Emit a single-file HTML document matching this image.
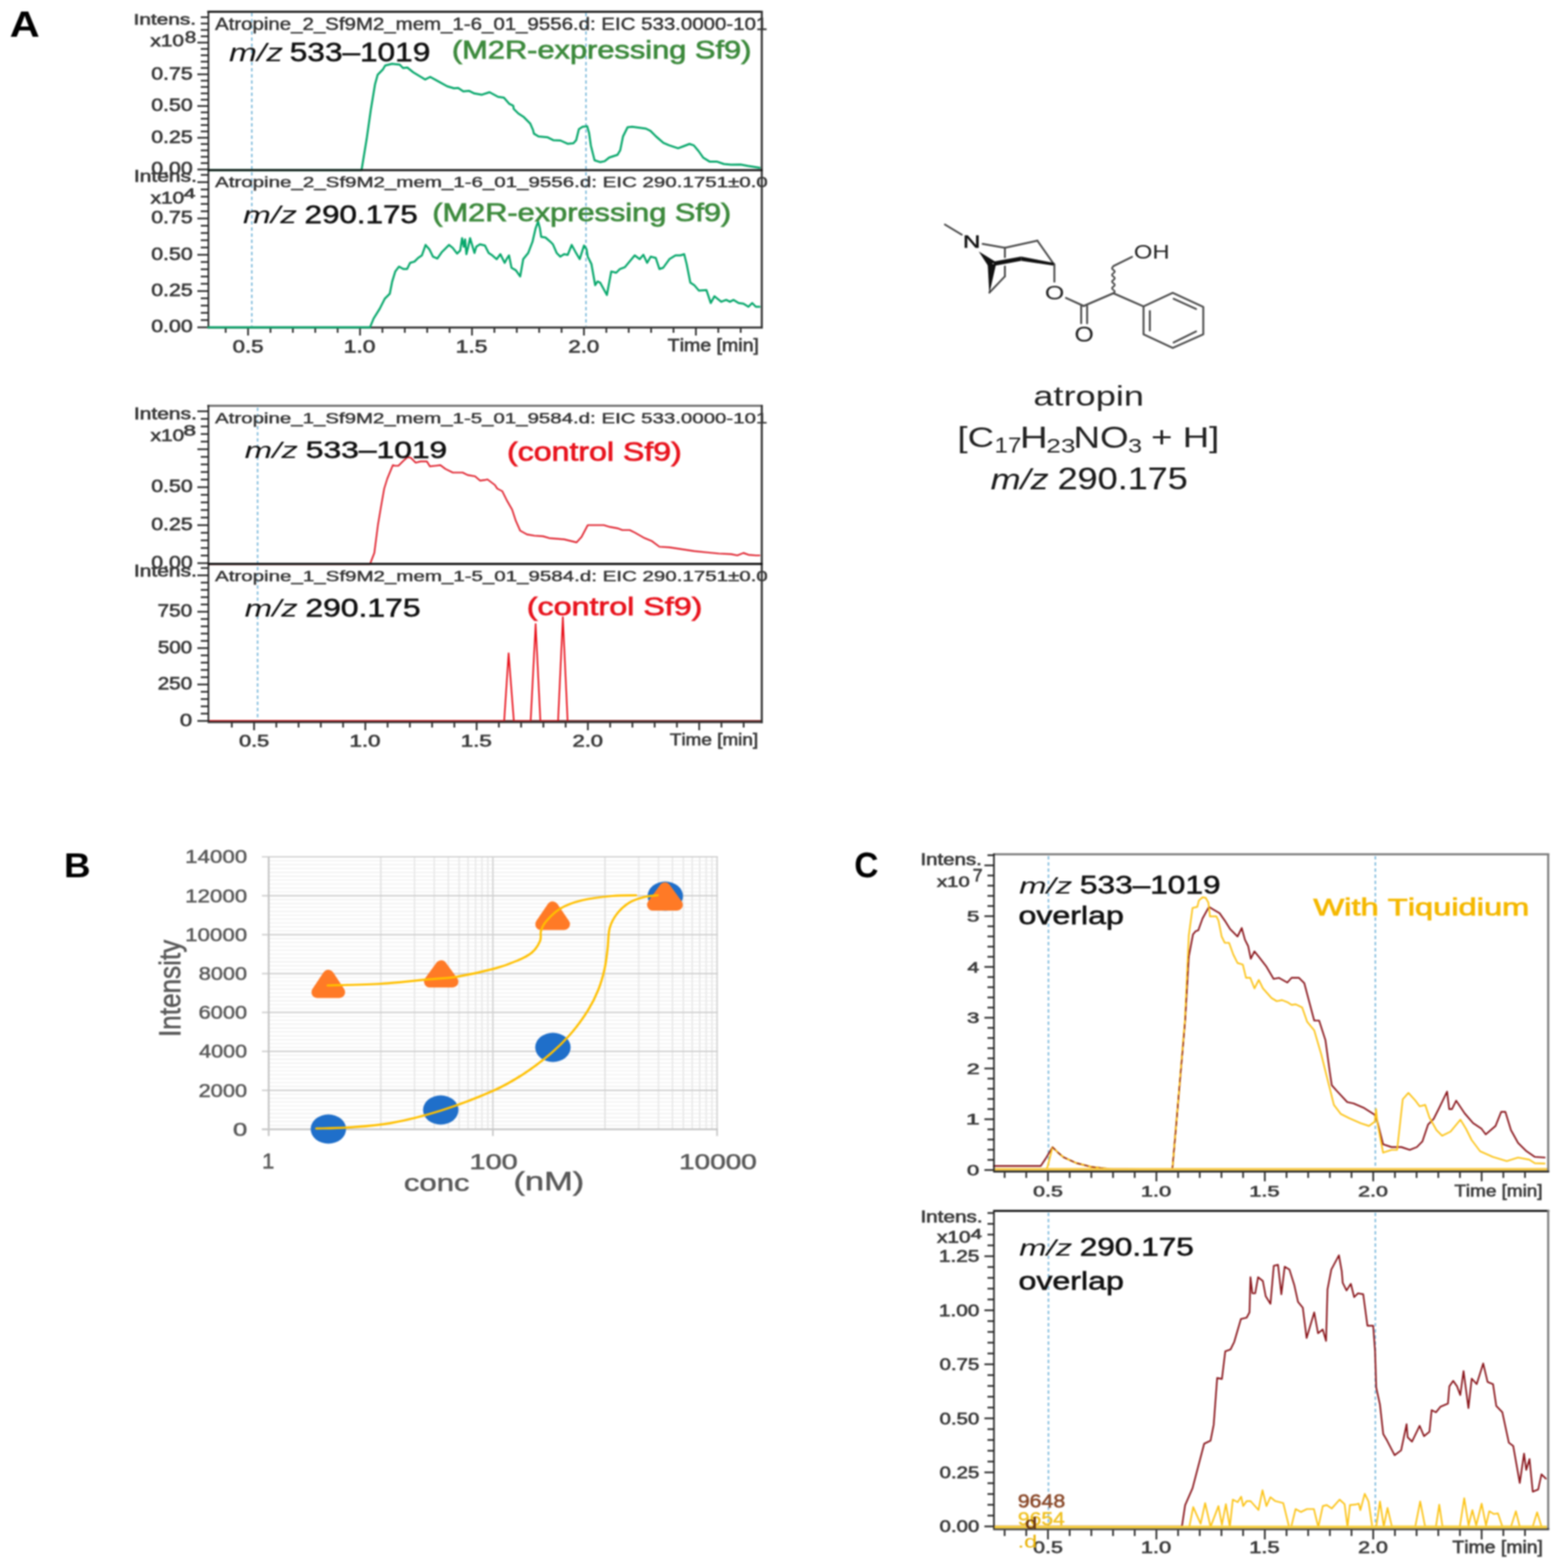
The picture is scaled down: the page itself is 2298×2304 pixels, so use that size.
<!DOCTYPE html>
<html><head><meta charset="utf-8"><title>Atropine figure</title>
<style>
html,body{margin:0;padding:0;background:#fff;}
svg{display:block;filter:blur(0.8px);}
text{font-family:"Liberation Sans",Arial,sans-serif;font-kerning:none;}
</style></head><body>
<svg width="2298" height="2304" viewBox="0 0 2298 2304">
<rect width="2298" height="2304" fill="#fff"/>
<text x="14.3" y="53.6" font-size="52.91" textLength="44.1" lengthAdjust="spacingAndGlyphs" fill="#000" font-weight="bold">A</text>
<text x="222.2" y="116.5" font-size="25.49" textLength="61.0" lengthAdjust="spacingAndGlyphs" fill="#3a3a3a" stroke="#3a3a3a" stroke-width="0.9">0.75</text>
<text x="222.2" y="163.1" font-size="25.49" textLength="60.9" lengthAdjust="spacingAndGlyphs" fill="#3a3a3a" stroke="#3a3a3a" stroke-width="0.9">0.50</text>
<text x="222.2" y="209.7" font-size="25.49" textLength="61.0" lengthAdjust="spacingAndGlyphs" fill="#3a3a3a" stroke="#3a3a3a" stroke-width="0.9">0.25</text>
<text x="222.2" y="256.3" font-size="25.49" textLength="60.9" lengthAdjust="spacingAndGlyphs" fill="#3a3a3a" stroke="#3a3a3a" stroke-width="0.9">0.00</text>
<text x="196.3" y="35.8" font-size="22.67" textLength="91.7" lengthAdjust="spacingAndGlyphs" fill="#3a3a3a" stroke="#3a3a3a" stroke-width="0.9">Intens.</text>
<text x="220.9" y="68.1" font-size="23.26" textLength="49.5" lengthAdjust="spacingAndGlyphs" fill="#3a3a3a" stroke="#3a3a3a" stroke-width="0.9">x10</text>
<text x="271.5" y="63.2" font-size="24.15" textLength="16.8" lengthAdjust="spacingAndGlyphs" fill="#3a3a3a" stroke="#3a3a3a" stroke-width="0.9">8</text>
<line x1="290.0" y1="249.0" x2="306.0" y2="249.0" stroke="#2b2b2b" stroke-width="2.5"/>
<line x1="295.0" y1="239.7" x2="306.0" y2="239.7" stroke="#2b2b2b" stroke-width="2.5"/>
<line x1="295.0" y1="230.4" x2="306.0" y2="230.4" stroke="#2b2b2b" stroke-width="2.5"/>
<line x1="295.0" y1="221.0" x2="306.0" y2="221.0" stroke="#2b2b2b" stroke-width="2.5"/>
<line x1="295.0" y1="211.7" x2="306.0" y2="211.7" stroke="#2b2b2b" stroke-width="2.5"/>
<line x1="290.0" y1="202.4" x2="306.0" y2="202.4" stroke="#2b2b2b" stroke-width="2.5"/>
<line x1="295.0" y1="193.1" x2="306.0" y2="193.1" stroke="#2b2b2b" stroke-width="2.5"/>
<line x1="295.0" y1="183.8" x2="306.0" y2="183.8" stroke="#2b2b2b" stroke-width="2.5"/>
<line x1="295.0" y1="174.4" x2="306.0" y2="174.4" stroke="#2b2b2b" stroke-width="2.5"/>
<line x1="295.0" y1="165.1" x2="306.0" y2="165.1" stroke="#2b2b2b" stroke-width="2.5"/>
<line x1="290.0" y1="155.8" x2="306.0" y2="155.8" stroke="#2b2b2b" stroke-width="2.5"/>
<line x1="295.0" y1="146.5" x2="306.0" y2="146.5" stroke="#2b2b2b" stroke-width="2.5"/>
<line x1="295.0" y1="137.2" x2="306.0" y2="137.2" stroke="#2b2b2b" stroke-width="2.5"/>
<line x1="295.0" y1="127.8" x2="306.0" y2="127.8" stroke="#2b2b2b" stroke-width="2.5"/>
<line x1="295.0" y1="118.5" x2="306.0" y2="118.5" stroke="#2b2b2b" stroke-width="2.5"/>
<line x1="290.0" y1="109.2" x2="306.0" y2="109.2" stroke="#2b2b2b" stroke-width="2.5"/>
<line x1="295.0" y1="99.9" x2="306.0" y2="99.9" stroke="#2b2b2b" stroke-width="2.5"/>
<line x1="295.0" y1="90.6" x2="306.0" y2="90.6" stroke="#2b2b2b" stroke-width="2.5"/>
<line x1="295.0" y1="81.2" x2="306.0" y2="81.2" stroke="#2b2b2b" stroke-width="2.5"/>
<line x1="295.0" y1="71.9" x2="306.0" y2="71.9" stroke="#2b2b2b" stroke-width="2.5"/>
<line x1="290.0" y1="62.6" x2="306.0" y2="62.6" stroke="#2b2b2b" stroke-width="2.5"/>
<line x1="295.0" y1="53.3" x2="306.0" y2="53.3" stroke="#2b2b2b" stroke-width="2.5"/>
<line x1="295.0" y1="44.0" x2="306.0" y2="44.0" stroke="#2b2b2b" stroke-width="2.5"/>
<line x1="295.0" y1="34.6" x2="306.0" y2="34.6" stroke="#2b2b2b" stroke-width="2.5"/>
<line x1="295.0" y1="25.3" x2="306.0" y2="25.3" stroke="#2b2b2b" stroke-width="2.5"/>
<line x1="370" y1="19" x2="370" y2="479" stroke="#6fb3d9" stroke-width="2.2" stroke-dasharray="5,4" opacity="0.9"/>
<line x1="861" y1="19" x2="861" y2="479" stroke="#6fb3d9" stroke-width="2.2" stroke-dasharray="5,4" opacity="0.9"/>
<polyline points="306.0,250.0 531.2,250.0 538.7,204.6 544.9,161.0 551.1,123.6 554.9,109.9 562.3,102.4 566.0,96.2 576.0,93.7 587.3,95.0 592.2,100.0 598.5,99.3 607.2,106.2 624.6,116.8 632.1,113.0 644.5,119.9 657.0,126.7 667.0,129.8 673.2,129.2 680.7,134.2 689.4,133.6 696.9,137.3 708.1,139.2 719.3,135.5 731.7,142.3 740.4,143.6 748.0,152.3 754.1,155.4 754.8,160.0 761.6,166.7 769.7,172.1 779.1,181.6 783.2,191.0 784.5,196.4 791.3,200.5 804.8,201.8 812.8,205.9 823.6,206.5 834.4,211.3 842.5,210.6 846.6,205.9 850.6,189.7 856.0,186.3 862.8,185.6 865.5,195.1 868.2,214.0 873.6,235.5 881.6,238.2 888.4,236.9 895.1,231.5 907.3,227.5 911.3,220.7 915.4,200.5 922.1,187.0 928.9,186.3 949.1,189.0 955.8,192.4 963.9,200.5 974.7,209.9 982.8,213.3 996.3,217.8 1004.0,215.0 1013.1,211.5 1019.4,213.6 1026.4,222.0 1033.4,231.8 1042.5,237.4 1053.1,237.4 1063.6,241.0 1074.1,242.0 1088.1,241.7 1098.6,243.8 1116.1,246.6" fill="none" stroke="#08a86c" stroke-width="3.0" stroke-linejoin="round" stroke-linecap="round"/>
<text x="222.2" y="328.3" font-size="25.49" textLength="61.0" lengthAdjust="spacingAndGlyphs" fill="#3a3a3a" stroke="#3a3a3a" stroke-width="0.9">0.75</text>
<text x="222.2" y="381.7" font-size="25.49" textLength="60.9" lengthAdjust="spacingAndGlyphs" fill="#3a3a3a" stroke="#3a3a3a" stroke-width="0.9">0.50</text>
<text x="222.2" y="435.0" font-size="25.49" textLength="61.0" lengthAdjust="spacingAndGlyphs" fill="#3a3a3a" stroke="#3a3a3a" stroke-width="0.9">0.25</text>
<text x="222.2" y="488.3" font-size="25.49" textLength="60.9" lengthAdjust="spacingAndGlyphs" fill="#3a3a3a" stroke="#3a3a3a" stroke-width="0.9">0.00</text>
<text x="196.7" y="267.2" font-size="24.42" textLength="92.6" lengthAdjust="spacingAndGlyphs" fill="#3a3a3a" stroke="#3a3a3a" stroke-width="0.9">Intens.</text>
<text x="221.2" y="299.2" font-size="23.84" textLength="49.5" lengthAdjust="spacingAndGlyphs" fill="#3a3a3a" stroke="#3a3a3a" stroke-width="0.9">x10</text>
<text x="270.1" y="290.6" font-size="20.79" textLength="17.2" lengthAdjust="spacingAndGlyphs" fill="#3a3a3a" stroke="#3a3a3a" stroke-width="0.9">4</text>
<line x1="290.0" y1="481.0" x2="306.0" y2="481.0" stroke="#2b2b2b" stroke-width="2.5"/>
<line x1="295.0" y1="470.3" x2="306.0" y2="470.3" stroke="#2b2b2b" stroke-width="2.5"/>
<line x1="295.0" y1="459.7" x2="306.0" y2="459.7" stroke="#2b2b2b" stroke-width="2.5"/>
<line x1="295.0" y1="449.0" x2="306.0" y2="449.0" stroke="#2b2b2b" stroke-width="2.5"/>
<line x1="295.0" y1="438.3" x2="306.0" y2="438.3" stroke="#2b2b2b" stroke-width="2.5"/>
<line x1="290.0" y1="427.7" x2="306.0" y2="427.7" stroke="#2b2b2b" stroke-width="2.5"/>
<line x1="295.0" y1="417.0" x2="306.0" y2="417.0" stroke="#2b2b2b" stroke-width="2.5"/>
<line x1="295.0" y1="406.3" x2="306.0" y2="406.3" stroke="#2b2b2b" stroke-width="2.5"/>
<line x1="295.0" y1="395.7" x2="306.0" y2="395.7" stroke="#2b2b2b" stroke-width="2.5"/>
<line x1="295.0" y1="385.0" x2="306.0" y2="385.0" stroke="#2b2b2b" stroke-width="2.5"/>
<line x1="290.0" y1="374.4" x2="306.0" y2="374.4" stroke="#2b2b2b" stroke-width="2.5"/>
<line x1="295.0" y1="363.7" x2="306.0" y2="363.7" stroke="#2b2b2b" stroke-width="2.5"/>
<line x1="295.0" y1="353.0" x2="306.0" y2="353.0" stroke="#2b2b2b" stroke-width="2.5"/>
<line x1="295.0" y1="342.4" x2="306.0" y2="342.4" stroke="#2b2b2b" stroke-width="2.5"/>
<line x1="295.0" y1="331.7" x2="306.0" y2="331.7" stroke="#2b2b2b" stroke-width="2.5"/>
<line x1="290.0" y1="321.0" x2="306.0" y2="321.0" stroke="#2b2b2b" stroke-width="2.5"/>
<line x1="295.0" y1="310.4" x2="306.0" y2="310.4" stroke="#2b2b2b" stroke-width="2.5"/>
<line x1="295.0" y1="299.7" x2="306.0" y2="299.7" stroke="#2b2b2b" stroke-width="2.5"/>
<line x1="295.0" y1="289.0" x2="306.0" y2="289.0" stroke="#2b2b2b" stroke-width="2.5"/>
<line x1="295.0" y1="278.4" x2="306.0" y2="278.4" stroke="#2b2b2b" stroke-width="2.5"/>
<line x1="290.0" y1="267.7" x2="306.0" y2="267.7" stroke="#2b2b2b" stroke-width="2.5"/>
<line x1="295.0" y1="257.0" x2="306.0" y2="257.0" stroke="#2b2b2b" stroke-width="2.5"/>
<line x1="331.6" y1="481.0" x2="331.6" y2="489.0" stroke="#2b2b2b" stroke-width="2.5"/>
<line x1="364.5" y1="481.0" x2="364.5" y2="493.0" stroke="#2b2b2b" stroke-width="2.5"/>
<line x1="397.4" y1="481.0" x2="397.4" y2="489.0" stroke="#2b2b2b" stroke-width="2.5"/>
<line x1="430.3" y1="481.0" x2="430.3" y2="489.0" stroke="#2b2b2b" stroke-width="2.5"/>
<line x1="463.2" y1="481.0" x2="463.2" y2="489.0" stroke="#2b2b2b" stroke-width="2.5"/>
<line x1="496.1" y1="481.0" x2="496.1" y2="489.0" stroke="#2b2b2b" stroke-width="2.5"/>
<line x1="529.0" y1="481.0" x2="529.0" y2="493.0" stroke="#2b2b2b" stroke-width="2.5"/>
<line x1="561.9" y1="481.0" x2="561.9" y2="489.0" stroke="#2b2b2b" stroke-width="2.5"/>
<line x1="594.8" y1="481.0" x2="594.8" y2="489.0" stroke="#2b2b2b" stroke-width="2.5"/>
<line x1="627.7" y1="481.0" x2="627.7" y2="489.0" stroke="#2b2b2b" stroke-width="2.5"/>
<line x1="660.6" y1="481.0" x2="660.6" y2="489.0" stroke="#2b2b2b" stroke-width="2.5"/>
<line x1="693.5" y1="481.0" x2="693.5" y2="493.0" stroke="#2b2b2b" stroke-width="2.5"/>
<line x1="726.4" y1="481.0" x2="726.4" y2="489.0" stroke="#2b2b2b" stroke-width="2.5"/>
<line x1="759.3" y1="481.0" x2="759.3" y2="489.0" stroke="#2b2b2b" stroke-width="2.5"/>
<line x1="792.2" y1="481.0" x2="792.2" y2="489.0" stroke="#2b2b2b" stroke-width="2.5"/>
<line x1="825.1" y1="481.0" x2="825.1" y2="489.0" stroke="#2b2b2b" stroke-width="2.5"/>
<line x1="858.0" y1="481.0" x2="858.0" y2="493.0" stroke="#2b2b2b" stroke-width="2.5"/>
<line x1="890.9" y1="481.0" x2="890.9" y2="489.0" stroke="#2b2b2b" stroke-width="2.5"/>
<line x1="923.8" y1="481.0" x2="923.8" y2="489.0" stroke="#2b2b2b" stroke-width="2.5"/>
<line x1="956.7" y1="481.0" x2="956.7" y2="489.0" stroke="#2b2b2b" stroke-width="2.5"/>
<line x1="989.6" y1="481.0" x2="989.6" y2="489.0" stroke="#2b2b2b" stroke-width="2.5"/>
<line x1="1022.5" y1="481.0" x2="1022.5" y2="493.0" stroke="#2b2b2b" stroke-width="2.5"/>
<line x1="1055.4" y1="481.0" x2="1055.4" y2="489.0" stroke="#2b2b2b" stroke-width="2.5"/>
<line x1="1088.3" y1="481.0" x2="1088.3" y2="489.0" stroke="#2b2b2b" stroke-width="2.5"/>
<text x="341.8" y="517.8" font-size="26.21" textLength="45.5" lengthAdjust="spacingAndGlyphs" fill="#3a3a3a" stroke="#3a3a3a" stroke-width="0.9">0.5</text>
<text x="505.0" y="517.8" font-size="26.21" textLength="46.7" lengthAdjust="spacingAndGlyphs" fill="#3a3a3a" stroke="#3a3a3a" stroke-width="0.9">1.0</text>
<text x="669.5" y="517.8" font-size="26.21" textLength="46.8" lengthAdjust="spacingAndGlyphs" fill="#3a3a3a" stroke="#3a3a3a" stroke-width="0.9">1.5</text>
<text x="834.9" y="517.8" font-size="26.21" textLength="45.7" lengthAdjust="spacingAndGlyphs" fill="#3a3a3a" stroke="#3a3a3a" stroke-width="0.9">2.0</text>
<text x="981.1" y="515.7" font-size="25.75" textLength="134.0" lengthAdjust="spacingAndGlyphs" fill="#3a3a3a" stroke="#3a3a3a" stroke-width="0.9">Time [min]</text>
<line x1="304.5" y1="17.3" x2="1120.5" y2="17.3" stroke="#111" stroke-width="3"/>
<line x1="306.2" y1="16.0" x2="306.2" y2="482.0" stroke="#222" stroke-width="2.4"/>
<line x1="1119.3" y1="16.0" x2="1119.3" y2="482.5" stroke="#333" stroke-width="3"/>
<line x1="305.0" y1="250.0" x2="1120.5" y2="250.0" stroke="#111" stroke-width="3.2"/>
<line x1="305.0" y1="481.3" x2="1120.5" y2="481.3" stroke="#333" stroke-width="3"/>
<polyline points="306.0,481.0 543.6,481.0 549.0,468.0 558.1,453.4 565.4,438.9 572.7,431.6 576.3,413.5 580.8,398.9 586.3,391.7 592.6,395.3 598.1,395.3 602.6,386.2 609.0,384.4 614.4,379.0 619.9,375.3 625.3,359.9 630.8,366.2 636.2,377.1 642.6,379.9 648.9,370.8 659.8,359.9 665.3,364.4 671.6,372.6 676.2,368.1 678.9,349.9 681.6,362.6 683.4,351.7 685.3,373.5 688.0,362.6 690.7,349.9 693.4,359.0 697.1,371.7 699.8,362.6 705.2,359.0 712.5,360.8 718.0,371.7 723.4,375.3 729.8,380.8 735.2,373.5 737.9,379.0 741.6,386.2 744.3,380.8 747.9,375.3 751.6,393.5 757.9,397.1 764.3,406.2 768.8,380.8 776.1,371.7 782.4,355.3 787.0,335.4 790.6,325.4 793.3,335.4 795.2,348.1 801.5,349.0 808.8,355.3 812.4,359.0 817.9,371.7 823.3,377.1 828.8,373.5 834.2,374.4 840.0,359.9 845.4,369.9 851.8,380.8 858.1,360.8 861.8,366.2 863.6,377.1 869.0,388.0 874.5,418.9 878.1,413.5 881.8,415.3 891.7,433.4 898.1,398.9 905.4,400.8 910.8,395.3 918.1,392.6 932.6,375.3 939.9,380.8 945.3,374.4 950.8,386.2 956.2,377.1 963.5,379.0 968.9,395.3 974.4,393.5 983.5,380.8 992.5,375.3 999.8,375.3 1005.3,373.5 1008.9,388.0 1014.3,415.3 1020.0,418.9 1027.0,427.1 1038.0,426.2 1044.3,445.3 1049.8,435.3 1059.7,443.4 1067.0,440.7 1072.5,443.4 1077.9,440.7 1085.2,445.3 1092.4,446.2 1099.7,450.7 1105.2,445.3 1110.6,450.7 1116.0,450.7" fill="none" stroke="#08a86c" stroke-width="3.0" stroke-linejoin="round" stroke-linecap="round"/>
<text x="315.9" y="43.6" font-size="24.86" textLength="811.5" lengthAdjust="spacingAndGlyphs" fill="#333" stroke="#333" stroke-width="0.6">Atropine_2_Sf9M2_mem_1-6_01_9556.d: EIC 533.0000-101</text>
<text x="316.1" y="275.0" font-size="22.53" textLength="812.0" lengthAdjust="spacingAndGlyphs" fill="#333" stroke="#333" stroke-width="0.6">Atropine_2_Sf9M2_mem_1-6_01_9556.d: EIC 290.1751±0.0</text>
<text x="336.6" y="89.8" font-size="36.64" textLength="79.3" lengthAdjust="spacingAndGlyphs" fill="#111" font-style="italic">m/z</text>
<text x="425.8" y="89.8" font-size="39.24" textLength="206.4" lengthAdjust="spacingAndGlyphs" fill="#111" stroke="#111" stroke-width="0.8">533–1019</text>
<text x="664.0" y="85.8" font-size="36.69" textLength="440.0" lengthAdjust="spacingAndGlyphs" fill="#3d8a3d" stroke="#3d8a3d" stroke-width="1.0">(M2R-expressing Sf9)</text>
<text x="357.0" y="328.2" font-size="34.97" textLength="79.3" lengthAdjust="spacingAndGlyphs" fill="#111" font-style="italic">m/z</text>
<text x="447.6" y="328.2" font-size="37.65" textLength="166.3" lengthAdjust="spacingAndGlyphs" fill="#111" stroke="#111" stroke-width="0.8">290.175</text>
<text x="635.2" y="324.9" font-size="37.01" textLength="439.2" lengthAdjust="spacingAndGlyphs" fill="#3d8a3d" stroke="#3d8a3d" stroke-width="1.0">(M2R-expressing Sf9)</text>
<text x="222.2" y="723.2" font-size="25.49" textLength="60.9" lengthAdjust="spacingAndGlyphs" fill="#3a3a3a" stroke="#3a3a3a" stroke-width="0.9">0.50</text>
<text x="222.2" y="779.0" font-size="25.49" textLength="61.0" lengthAdjust="spacingAndGlyphs" fill="#3a3a3a" stroke="#3a3a3a" stroke-width="0.9">0.25</text>
<text x="222.2" y="834.8" font-size="25.49" textLength="60.9" lengthAdjust="spacingAndGlyphs" fill="#3a3a3a" stroke="#3a3a3a" stroke-width="0.9">0.00</text>
<text x="196.7" y="615.8" font-size="24.42" textLength="92.6" lengthAdjust="spacingAndGlyphs" fill="#3a3a3a" stroke="#3a3a3a" stroke-width="0.9">Intens.</text>
<text x="221.2" y="648.2" font-size="24.27" textLength="49.5" lengthAdjust="spacingAndGlyphs" fill="#3a3a3a" stroke="#3a3a3a" stroke-width="0.9">x10</text>
<text x="269.4" y="640.2" font-size="21.89" textLength="18.5" lengthAdjust="spacingAndGlyphs" fill="#3a3a3a" stroke="#3a3a3a" stroke-width="0.9">8</text>
<line x1="290.0" y1="827.5" x2="306.0" y2="827.5" stroke="#2b2b2b" stroke-width="2.5"/>
<line x1="295.0" y1="816.3" x2="306.0" y2="816.3" stroke="#2b2b2b" stroke-width="2.5"/>
<line x1="295.0" y1="805.2" x2="306.0" y2="805.2" stroke="#2b2b2b" stroke-width="2.5"/>
<line x1="295.0" y1="794.0" x2="306.0" y2="794.0" stroke="#2b2b2b" stroke-width="2.5"/>
<line x1="295.0" y1="782.9" x2="306.0" y2="782.9" stroke="#2b2b2b" stroke-width="2.5"/>
<line x1="290.0" y1="771.7" x2="306.0" y2="771.7" stroke="#2b2b2b" stroke-width="2.5"/>
<line x1="295.0" y1="760.5" x2="306.0" y2="760.5" stroke="#2b2b2b" stroke-width="2.5"/>
<line x1="295.0" y1="749.4" x2="306.0" y2="749.4" stroke="#2b2b2b" stroke-width="2.5"/>
<line x1="295.0" y1="738.2" x2="306.0" y2="738.2" stroke="#2b2b2b" stroke-width="2.5"/>
<line x1="295.0" y1="727.1" x2="306.0" y2="727.1" stroke="#2b2b2b" stroke-width="2.5"/>
<line x1="290.0" y1="715.9" x2="306.0" y2="715.9" stroke="#2b2b2b" stroke-width="2.5"/>
<line x1="295.0" y1="704.7" x2="306.0" y2="704.7" stroke="#2b2b2b" stroke-width="2.5"/>
<line x1="295.0" y1="693.6" x2="306.0" y2="693.6" stroke="#2b2b2b" stroke-width="2.5"/>
<line x1="295.0" y1="682.4" x2="306.0" y2="682.4" stroke="#2b2b2b" stroke-width="2.5"/>
<line x1="295.0" y1="671.3" x2="306.0" y2="671.3" stroke="#2b2b2b" stroke-width="2.5"/>
<line x1="290.0" y1="660.1" x2="306.0" y2="660.1" stroke="#2b2b2b" stroke-width="2.5"/>
<line x1="295.0" y1="648.9" x2="306.0" y2="648.9" stroke="#2b2b2b" stroke-width="2.5"/>
<line x1="295.0" y1="637.8" x2="306.0" y2="637.8" stroke="#2b2b2b" stroke-width="2.5"/>
<line x1="295.0" y1="626.6" x2="306.0" y2="626.6" stroke="#2b2b2b" stroke-width="2.5"/>
<line x1="295.0" y1="615.5" x2="306.0" y2="615.5" stroke="#2b2b2b" stroke-width="2.5"/>
<line x1="290.0" y1="604.3" x2="306.0" y2="604.3" stroke="#2b2b2b" stroke-width="2.5"/>
<line x1="378.5" y1="599" x2="378.5" y2="1059" stroke="#6fb3d9" stroke-width="2.2" stroke-dasharray="5,4" opacity="0.9"/>
<polyline points="306.0,829.0 543.6,829.0 550.0,812.5 555.4,770.7 560.0,743.5 564.5,718.0 569.0,703.5 577.2,683.5 580.0,684.4 585.4,684.4 592.7,677.2 599.0,671.7 603.5,672.6 610.8,679.9 618.0,678.0 627.2,678.0 631.7,685.3 639.9,684.4 647.1,683.5 654.4,689.0 665.3,694.4 679.8,694.4 687.1,698.0 698.0,699.9 705.3,706.2 712.5,705.3 716.2,704.4 727.1,712.6 730.7,718.0 738.0,721.7 745.2,736.2 752.5,748.9 757.9,765.3 764.3,779.8 774.3,785.2 785.2,787.1 797.9,788.0 807.0,790.7 828.8,792.5 847.2,797.0 854.5,788.9 863.6,771.6 887.2,771.6 896.3,774.3 907.2,776.2 914.4,778.9 925.3,778.9 932.6,782.5 947.1,790.7 958.0,795.2 968.9,803.4 983.5,804.3 1001.6,807.0 1019.8,809.8 1038.0,811.6 1056.1,813.4 1074.3,814.3 1083.4,816.1 1092.4,812.5 1099.7,815.2 1110.6,816.1 1116.0,816.1" fill="none" stroke="#e0222e" stroke-width="2.4" stroke-linejoin="round" stroke-linecap="round"/>
<text x="231.6" y="906.2" font-size="25.49" textLength="50.7" lengthAdjust="spacingAndGlyphs" fill="#3a3a3a" stroke="#3a3a3a" stroke-width="0.9">750</text>
<text x="232.0" y="959.6" font-size="25.49" textLength="50.4" lengthAdjust="spacingAndGlyphs" fill="#3a3a3a" stroke="#3a3a3a" stroke-width="0.9">500</text>
<text x="231.7" y="1013.1" font-size="25.49" textLength="50.7" lengthAdjust="spacingAndGlyphs" fill="#3a3a3a" stroke="#3a3a3a" stroke-width="0.9">250</text>
<text x="264.3" y="1066.6" font-size="25.49" textLength="18.1" lengthAdjust="spacingAndGlyphs" fill="#3a3a3a" stroke="#3a3a3a" stroke-width="0.9">0</text>
<text x="196.7" y="847.2" font-size="24.42" textLength="92.6" lengthAdjust="spacingAndGlyphs" fill="#3a3a3a" stroke="#3a3a3a" stroke-width="0.9">Intens.</text>
<line x1="290.0" y1="1059.3" x2="306.0" y2="1059.3" stroke="#2b2b2b" stroke-width="2.5"/>
<line x1="295.0" y1="1048.6" x2="306.0" y2="1048.6" stroke="#2b2b2b" stroke-width="2.5"/>
<line x1="295.0" y1="1037.9" x2="306.0" y2="1037.9" stroke="#2b2b2b" stroke-width="2.5"/>
<line x1="295.0" y1="1027.2" x2="306.0" y2="1027.2" stroke="#2b2b2b" stroke-width="2.5"/>
<line x1="295.0" y1="1016.5" x2="306.0" y2="1016.5" stroke="#2b2b2b" stroke-width="2.5"/>
<line x1="290.0" y1="1005.8" x2="306.0" y2="1005.8" stroke="#2b2b2b" stroke-width="2.5"/>
<line x1="295.0" y1="995.1" x2="306.0" y2="995.1" stroke="#2b2b2b" stroke-width="2.5"/>
<line x1="295.0" y1="984.4" x2="306.0" y2="984.4" stroke="#2b2b2b" stroke-width="2.5"/>
<line x1="295.0" y1="973.7" x2="306.0" y2="973.7" stroke="#2b2b2b" stroke-width="2.5"/>
<line x1="295.0" y1="963.0" x2="306.0" y2="963.0" stroke="#2b2b2b" stroke-width="2.5"/>
<line x1="290.0" y1="952.3" x2="306.0" y2="952.3" stroke="#2b2b2b" stroke-width="2.5"/>
<line x1="295.0" y1="941.7" x2="306.0" y2="941.7" stroke="#2b2b2b" stroke-width="2.5"/>
<line x1="295.0" y1="931.0" x2="306.0" y2="931.0" stroke="#2b2b2b" stroke-width="2.5"/>
<line x1="295.0" y1="920.3" x2="306.0" y2="920.3" stroke="#2b2b2b" stroke-width="2.5"/>
<line x1="295.0" y1="909.6" x2="306.0" y2="909.6" stroke="#2b2b2b" stroke-width="2.5"/>
<line x1="290.0" y1="898.9" x2="306.0" y2="898.9" stroke="#2b2b2b" stroke-width="2.5"/>
<line x1="295.0" y1="888.2" x2="306.0" y2="888.2" stroke="#2b2b2b" stroke-width="2.5"/>
<line x1="295.0" y1="877.5" x2="306.0" y2="877.5" stroke="#2b2b2b" stroke-width="2.5"/>
<line x1="295.0" y1="866.8" x2="306.0" y2="866.8" stroke="#2b2b2b" stroke-width="2.5"/>
<line x1="295.0" y1="856.1" x2="306.0" y2="856.1" stroke="#2b2b2b" stroke-width="2.5"/>
<line x1="290.0" y1="845.4" x2="306.0" y2="845.4" stroke="#2b2b2b" stroke-width="2.5"/>
<line x1="295.0" y1="834.7" x2="306.0" y2="834.7" stroke="#2b2b2b" stroke-width="2.5"/>
<line x1="340.6" y1="1061.0" x2="340.6" y2="1069.0" stroke="#2b2b2b" stroke-width="2.5"/>
<line x1="373.3" y1="1061.0" x2="373.3" y2="1073.0" stroke="#2b2b2b" stroke-width="2.5"/>
<line x1="406.0" y1="1061.0" x2="406.0" y2="1069.0" stroke="#2b2b2b" stroke-width="2.5"/>
<line x1="438.7" y1="1061.0" x2="438.7" y2="1069.0" stroke="#2b2b2b" stroke-width="2.5"/>
<line x1="471.4" y1="1061.0" x2="471.4" y2="1069.0" stroke="#2b2b2b" stroke-width="2.5"/>
<line x1="504.1" y1="1061.0" x2="504.1" y2="1069.0" stroke="#2b2b2b" stroke-width="2.5"/>
<line x1="536.8" y1="1061.0" x2="536.8" y2="1073.0" stroke="#2b2b2b" stroke-width="2.5"/>
<line x1="569.5" y1="1061.0" x2="569.5" y2="1069.0" stroke="#2b2b2b" stroke-width="2.5"/>
<line x1="602.2" y1="1061.0" x2="602.2" y2="1069.0" stroke="#2b2b2b" stroke-width="2.5"/>
<line x1="634.9" y1="1061.0" x2="634.9" y2="1069.0" stroke="#2b2b2b" stroke-width="2.5"/>
<line x1="667.6" y1="1061.0" x2="667.6" y2="1069.0" stroke="#2b2b2b" stroke-width="2.5"/>
<line x1="700.3" y1="1061.0" x2="700.3" y2="1073.0" stroke="#2b2b2b" stroke-width="2.5"/>
<line x1="733.0" y1="1061.0" x2="733.0" y2="1069.0" stroke="#2b2b2b" stroke-width="2.5"/>
<line x1="765.7" y1="1061.0" x2="765.7" y2="1069.0" stroke="#2b2b2b" stroke-width="2.5"/>
<line x1="798.4" y1="1061.0" x2="798.4" y2="1069.0" stroke="#2b2b2b" stroke-width="2.5"/>
<line x1="831.1" y1="1061.0" x2="831.1" y2="1069.0" stroke="#2b2b2b" stroke-width="2.5"/>
<line x1="863.8" y1="1061.0" x2="863.8" y2="1073.0" stroke="#2b2b2b" stroke-width="2.5"/>
<line x1="896.5" y1="1061.0" x2="896.5" y2="1069.0" stroke="#2b2b2b" stroke-width="2.5"/>
<line x1="929.2" y1="1061.0" x2="929.2" y2="1069.0" stroke="#2b2b2b" stroke-width="2.5"/>
<line x1="961.9" y1="1061.0" x2="961.9" y2="1069.0" stroke="#2b2b2b" stroke-width="2.5"/>
<line x1="994.6" y1="1061.0" x2="994.6" y2="1069.0" stroke="#2b2b2b" stroke-width="2.5"/>
<line x1="1027.3" y1="1061.0" x2="1027.3" y2="1073.0" stroke="#2b2b2b" stroke-width="2.5"/>
<line x1="1060.0" y1="1061.0" x2="1060.0" y2="1069.0" stroke="#2b2b2b" stroke-width="2.5"/>
<line x1="1092.7" y1="1061.0" x2="1092.7" y2="1069.0" stroke="#2b2b2b" stroke-width="2.5"/>
<text x="351.2" y="1096.7" font-size="23.20" textLength="44.4" lengthAdjust="spacingAndGlyphs" fill="#3a3a3a" stroke="#3a3a3a" stroke-width="0.9">0.5</text>
<text x="513.4" y="1096.7" font-size="23.20" textLength="45.6" lengthAdjust="spacingAndGlyphs" fill="#3a3a3a" stroke="#3a3a3a" stroke-width="0.9">1.0</text>
<text x="676.9" y="1096.7" font-size="23.20" textLength="45.7" lengthAdjust="spacingAndGlyphs" fill="#3a3a3a" stroke="#3a3a3a" stroke-width="0.9">1.5</text>
<text x="841.3" y="1096.7" font-size="23.20" textLength="44.7" lengthAdjust="spacingAndGlyphs" fill="#3a3a3a" stroke="#3a3a3a" stroke-width="0.9">2.0</text>
<text x="984.2" y="1095.4" font-size="24.67" textLength="129.7" lengthAdjust="spacingAndGlyphs" fill="#3a3a3a" stroke="#3a3a3a" stroke-width="0.9">Time [min]</text>
<line x1="307.0" y1="1059.3" x2="1118.0" y2="1059.3" stroke="#8e2a2a" stroke-width="2.6"/>
<polyline points="306.0,1059.3 740.8,1059.3 747.3,960.0 755.0,1059.3 779.7,1059.3 787.0,917.0 794.0,1059.3 820.0,1059.3 827.0,907.0 834.0,1059.3" fill="none" stroke="#e8101a" stroke-width="2.3" stroke-linejoin="round" stroke-linecap="round" stroke-linejoin="miter"/>
<line x1="304.5" y1="596.3" x2="1120.5" y2="596.3" stroke="#6a6a6a" stroke-width="3"/>
<line x1="306.2" y1="595.0" x2="306.2" y2="1062.0" stroke="#222" stroke-width="2.4"/>
<line x1="1119.3" y1="595.0" x2="1119.3" y2="1062.5" stroke="#333" stroke-width="3"/>
<line x1="305.0" y1="828.6" x2="1120.5" y2="828.6" stroke="#111" stroke-width="3.2"/>
<line x1="305.0" y1="1061.0" x2="1120.5" y2="1061.0" stroke="#333" stroke-width="3"/>
<text x="316.1" y="622.3" font-size="22.67" textLength="811.3" lengthAdjust="spacingAndGlyphs" fill="#333" stroke="#333" stroke-width="0.6">Atropine_1_Sf9M2_mem_1-5_01_9584.d: EIC 533.0000-101</text>
<text x="316.1" y="853.7" font-size="22.53" textLength="812.0" lengthAdjust="spacingAndGlyphs" fill="#333" stroke="#333" stroke-width="0.6">Atropine_1_Sf9M2_mem_1-5_01_9584.d: EIC 290.1751±0.0</text>
<text x="359.6" y="672.9" font-size="33.30" textLength="78.0" lengthAdjust="spacingAndGlyphs" fill="#111" font-style="italic">m/z</text>
<text x="449.3" y="672.9" font-size="35.90" textLength="207.8" lengthAdjust="spacingAndGlyphs" fill="#111" stroke="#111" stroke-width="0.8">533–1019</text>
<text x="745.1" y="677.4" font-size="38.00" textLength="256.7" lengthAdjust="spacingAndGlyphs" fill="#e8141e" stroke="#e8141e" stroke-width="1.0">(control Sf9)</text>
<text x="359.6" y="905.6" font-size="34.97" textLength="78.0" lengthAdjust="spacingAndGlyphs" fill="#111" font-style="italic">m/z</text>
<text x="448.8" y="905.6" font-size="37.65" textLength="169.1" lengthAdjust="spacingAndGlyphs" fill="#111" stroke="#111" stroke-width="0.8">290.175</text>
<text x="774.1" y="904.2" font-size="37.57" textLength="257.9" lengthAdjust="spacingAndGlyphs" fill="#e8141e" stroke="#e8141e" stroke-width="1.0">(control Sf9)</text>
<line x1="1388.3" y1="329.9" x2="1413.2" y2="344.9" stroke="#4a4a4a" stroke-width="2.8" stroke-linecap="round"/>
<line x1="1443.8" y1="358.4" x2="1476.5" y2="364.1" stroke="#4a4a4a" stroke-width="2.8" stroke-linecap="round"/>
<line x1="1476.5" y1="364.1" x2="1524.3" y2="353.7" stroke="#4a4a4a" stroke-width="2.8" stroke-linecap="round"/>
<line x1="1524.3" y1="353.7" x2="1548.7" y2="388.5" stroke="#4a4a4a" stroke-width="2.8" stroke-linecap="round"/>
<line x1="1476.5" y1="364.1" x2="1476.5" y2="378.1" stroke="#4a4a4a" stroke-width="2.8" stroke-linecap="round"/>
<line x1="1476.5" y1="391.6" x2="1476.5" y2="406.1" stroke="#4a4a4a" stroke-width="2.8" stroke-linecap="round"/>
<line x1="1476.5" y1="406.1" x2="1453.7" y2="430.0" stroke="#4a4a4a" stroke-width="2.8" stroke-linecap="round"/>
<polygon points="1438.1,369.6 1462.5,384.4 1452.2,391.2" fill="#111"/>
<polygon points="1451.2,387.2 1463.5,388.2 1453.6,431.5" fill="#111"/>
<polygon points="1458.8,384.6 1500.4,377.0 1500.4,383.2 1461.5,390.5" fill="#111"/>
<polygon points="1500.4,377.0 1549.5,386.6 1549.5,390.6 1500.4,383.2" fill="#111"/>
<line x1="1549.2" y1="388.5" x2="1549.2" y2="413.9" stroke="#4a4a4a" stroke-width="2.8" stroke-linecap="round"/>
<line x1="1566.2" y1="437.8" x2="1592.3" y2="449.6" stroke="#4a4a4a" stroke-width="2.8" stroke-linecap="round"/>
<line x1="1588.6" y1="449.6" x2="1588.6" y2="475.1" stroke="#4a4a4a" stroke-width="2.8" stroke-linecap="round"/>
<line x1="1597.3" y1="449.6" x2="1597.3" y2="475.1" stroke="#4a4a4a" stroke-width="2.8" stroke-linecap="round"/>
<line x1="1592.3" y1="449.6" x2="1635.9" y2="430.9" stroke="#4a4a4a" stroke-width="2.8" stroke-linecap="round"/>
<path d="M1635.9,430.9 Q1639.9,428.4 1635.9,426.0 Q1631.9,423.6 1635.9,421.1 Q1639.9,418.7 1635.9,416.2 Q1631.9,413.8 1635.9,411.3 Q1639.9,408.9 1635.9,406.4 Q1631.9,404.0 1635.9,401.5 Q1639.9,399.1 1635.9,396.6 Q1631.9,394.2 1635.9,391.7" fill="none" stroke="#4a4a4a" stroke-width="2.6"/>
<line x1="1635.9" y1="391.1" x2="1663.3" y2="377.4" stroke="#4a4a4a" stroke-width="2.8" stroke-linecap="round"/>
<line x1="1635.9" y1="430.9" x2="1680.2" y2="450.2" stroke="#4a4a4a" stroke-width="2.8" stroke-linecap="round"/>
<polyline points="1680.2,450.2 1723.1,430.3 1768,450.9 1768,491.3 1723.1,511.3 1680.2,491.3 1680.2,450.2" fill="none" stroke="#4a4a4a" stroke-width="2.8" stroke-linejoin="round"/>
<line x1="1689.5" y1="457.1" x2="1689.5" y2="485.7" stroke="#4a4a4a" stroke-width="2.8" stroke-linecap="round"/>
<line x1="1724.4" y1="439.0" x2="1757.4" y2="454.0" stroke="#4a4a4a" stroke-width="2.8" stroke-linecap="round"/>
<line x1="1724.4" y1="503.2" x2="1757.4" y2="487.0" stroke="#4a4a4a" stroke-width="2.8" stroke-linecap="round"/>
<text x="1415.0" y="363.6" font-size="25.73" textLength="25.5" lengthAdjust="spacingAndGlyphs" fill="#111" stroke="#111" stroke-width="0.7">N</text>
<text x="1535.3" y="440.3" font-size="29.80" textLength="28.5" lengthAdjust="spacingAndGlyphs" fill="#222">O</text>
<text x="1578.8" y="501.6" font-size="30.79" textLength="28.4" lengthAdjust="spacingAndGlyphs" fill="#222">O</text>
<text x="1666.0" y="379.6" font-size="29.94" textLength="52.4" lengthAdjust="spacingAndGlyphs" fill="#222">OH</text>
<text x="1518.3" y="596.0" font-size="39.80" textLength="162.6" lengthAdjust="spacingAndGlyphs" fill="#222">atropin</text>
<text x="1406.7" y="656.6" font-size="42.05" textLength="53.9" lengthAdjust="spacingAndGlyphs" fill="#222">[C</text>
<text x="1461.2" y="664.7" font-size="30.81" textLength="39.4" lengthAdjust="spacingAndGlyphs" fill="#222">17</text>
<text x="1498.6" y="657.7" font-size="44.33" textLength="40.9" lengthAdjust="spacingAndGlyphs" fill="#222">H</text>
<text x="1537.2" y="664.7" font-size="30.36" textLength="42.9" lengthAdjust="spacingAndGlyphs" fill="#222">23</text>
<text x="1577.2" y="657.7" font-size="44.33" textLength="81.2" lengthAdjust="spacingAndGlyphs" fill="#222">NO</text>
<text x="1657.6" y="664.7" font-size="30.36" textLength="20.5" lengthAdjust="spacingAndGlyphs" fill="#222">3</text>
<text x="1691.3" y="656.6" font-size="42.05" textLength="100.3" lengthAdjust="spacingAndGlyphs" fill="#222">+ H]</text>
<text x="1455.4" y="718.8" font-size="42.60" textLength="85.5" lengthAdjust="spacingAndGlyphs" fill="#1a1a1a" font-style="italic">m/z</text>
<text x="1553.9" y="718.8" font-size="45.93" textLength="191.3" lengthAdjust="spacingAndGlyphs" fill="#1a1a1a" stroke="#1a1a1a" stroke-width="0.2">290.175</text>
<text x="94.0" y="1288.6" font-size="50.87" textLength="39.1" lengthAdjust="spacingAndGlyphs" fill="#000" font-weight="bold">B</text>
<line x1="394.8" y1="1653.6" x2="1054.8" y2="1653.6" stroke="#f0f0f0" stroke-width="1.6"/>
<line x1="394.8" y1="1647.9" x2="1054.8" y2="1647.9" stroke="#f0f0f0" stroke-width="1.6"/>
<line x1="394.8" y1="1642.1" x2="1054.8" y2="1642.1" stroke="#f0f0f0" stroke-width="1.6"/>
<line x1="394.8" y1="1636.4" x2="1054.8" y2="1636.4" stroke="#f0f0f0" stroke-width="1.6"/>
<line x1="394.8" y1="1630.7" x2="1054.8" y2="1630.7" stroke="#f0f0f0" stroke-width="1.6"/>
<line x1="394.8" y1="1625.0" x2="1054.8" y2="1625.0" stroke="#f0f0f0" stroke-width="1.6"/>
<line x1="394.8" y1="1619.3" x2="1054.8" y2="1619.3" stroke="#f0f0f0" stroke-width="1.6"/>
<line x1="394.8" y1="1613.6" x2="1054.8" y2="1613.6" stroke="#f0f0f0" stroke-width="1.6"/>
<line x1="394.8" y1="1607.8" x2="1054.8" y2="1607.8" stroke="#f0f0f0" stroke-width="1.6"/>
<line x1="394.8" y1="1596.4" x2="1054.8" y2="1596.4" stroke="#f0f0f0" stroke-width="1.6"/>
<line x1="394.8" y1="1590.7" x2="1054.8" y2="1590.7" stroke="#f0f0f0" stroke-width="1.6"/>
<line x1="394.8" y1="1585.0" x2="1054.8" y2="1585.0" stroke="#f0f0f0" stroke-width="1.6"/>
<line x1="394.8" y1="1579.2" x2="1054.8" y2="1579.2" stroke="#f0f0f0" stroke-width="1.6"/>
<line x1="394.8" y1="1573.5" x2="1054.8" y2="1573.5" stroke="#f0f0f0" stroke-width="1.6"/>
<line x1="394.8" y1="1567.8" x2="1054.8" y2="1567.8" stroke="#f0f0f0" stroke-width="1.6"/>
<line x1="394.8" y1="1562.1" x2="1054.8" y2="1562.1" stroke="#f0f0f0" stroke-width="1.6"/>
<line x1="394.8" y1="1556.4" x2="1054.8" y2="1556.4" stroke="#f0f0f0" stroke-width="1.6"/>
<line x1="394.8" y1="1550.6" x2="1054.8" y2="1550.6" stroke="#f0f0f0" stroke-width="1.6"/>
<line x1="394.8" y1="1539.2" x2="1054.8" y2="1539.2" stroke="#f0f0f0" stroke-width="1.6"/>
<line x1="394.8" y1="1533.5" x2="1054.8" y2="1533.5" stroke="#f0f0f0" stroke-width="1.6"/>
<line x1="394.8" y1="1527.8" x2="1054.8" y2="1527.8" stroke="#f0f0f0" stroke-width="1.6"/>
<line x1="394.8" y1="1522.1" x2="1054.8" y2="1522.1" stroke="#f0f0f0" stroke-width="1.6"/>
<line x1="394.8" y1="1516.3" x2="1054.8" y2="1516.3" stroke="#f0f0f0" stroke-width="1.6"/>
<line x1="394.8" y1="1510.6" x2="1054.8" y2="1510.6" stroke="#f0f0f0" stroke-width="1.6"/>
<line x1="394.8" y1="1504.9" x2="1054.8" y2="1504.9" stroke="#f0f0f0" stroke-width="1.6"/>
<line x1="394.8" y1="1499.2" x2="1054.8" y2="1499.2" stroke="#f0f0f0" stroke-width="1.6"/>
<line x1="394.8" y1="1493.5" x2="1054.8" y2="1493.5" stroke="#f0f0f0" stroke-width="1.6"/>
<line x1="394.8" y1="1482.0" x2="1054.8" y2="1482.0" stroke="#f0f0f0" stroke-width="1.6"/>
<line x1="394.8" y1="1476.3" x2="1054.8" y2="1476.3" stroke="#f0f0f0" stroke-width="1.6"/>
<line x1="394.8" y1="1470.6" x2="1054.8" y2="1470.6" stroke="#f0f0f0" stroke-width="1.6"/>
<line x1="394.8" y1="1464.9" x2="1054.8" y2="1464.9" stroke="#f0f0f0" stroke-width="1.6"/>
<line x1="394.8" y1="1459.2" x2="1054.8" y2="1459.2" stroke="#f0f0f0" stroke-width="1.6"/>
<line x1="394.8" y1="1453.4" x2="1054.8" y2="1453.4" stroke="#f0f0f0" stroke-width="1.6"/>
<line x1="394.8" y1="1447.7" x2="1054.8" y2="1447.7" stroke="#f0f0f0" stroke-width="1.6"/>
<line x1="394.8" y1="1442.0" x2="1054.8" y2="1442.0" stroke="#f0f0f0" stroke-width="1.6"/>
<line x1="394.8" y1="1436.3" x2="1054.8" y2="1436.3" stroke="#f0f0f0" stroke-width="1.6"/>
<line x1="394.8" y1="1424.8" x2="1054.8" y2="1424.8" stroke="#f0f0f0" stroke-width="1.6"/>
<line x1="394.8" y1="1419.1" x2="1054.8" y2="1419.1" stroke="#f0f0f0" stroke-width="1.6"/>
<line x1="394.8" y1="1413.4" x2="1054.8" y2="1413.4" stroke="#f0f0f0" stroke-width="1.6"/>
<line x1="394.8" y1="1407.7" x2="1054.8" y2="1407.7" stroke="#f0f0f0" stroke-width="1.6"/>
<line x1="394.8" y1="1402.0" x2="1054.8" y2="1402.0" stroke="#f0f0f0" stroke-width="1.6"/>
<line x1="394.8" y1="1396.2" x2="1054.8" y2="1396.2" stroke="#f0f0f0" stroke-width="1.6"/>
<line x1="394.8" y1="1390.5" x2="1054.8" y2="1390.5" stroke="#f0f0f0" stroke-width="1.6"/>
<line x1="394.8" y1="1384.8" x2="1054.8" y2="1384.8" stroke="#f0f0f0" stroke-width="1.6"/>
<line x1="394.8" y1="1379.1" x2="1054.8" y2="1379.1" stroke="#f0f0f0" stroke-width="1.6"/>
<line x1="394.8" y1="1367.7" x2="1054.8" y2="1367.7" stroke="#f0f0f0" stroke-width="1.6"/>
<line x1="394.8" y1="1361.9" x2="1054.8" y2="1361.9" stroke="#f0f0f0" stroke-width="1.6"/>
<line x1="394.8" y1="1356.2" x2="1054.8" y2="1356.2" stroke="#f0f0f0" stroke-width="1.6"/>
<line x1="394.8" y1="1350.5" x2="1054.8" y2="1350.5" stroke="#f0f0f0" stroke-width="1.6"/>
<line x1="394.8" y1="1344.8" x2="1054.8" y2="1344.8" stroke="#f0f0f0" stroke-width="1.6"/>
<line x1="394.8" y1="1339.1" x2="1054.8" y2="1339.1" stroke="#f0f0f0" stroke-width="1.6"/>
<line x1="394.8" y1="1333.3" x2="1054.8" y2="1333.3" stroke="#f0f0f0" stroke-width="1.6"/>
<line x1="394.8" y1="1327.6" x2="1054.8" y2="1327.6" stroke="#f0f0f0" stroke-width="1.6"/>
<line x1="394.8" y1="1321.9" x2="1054.8" y2="1321.9" stroke="#f0f0f0" stroke-width="1.6"/>
<line x1="394.8" y1="1310.5" x2="1054.8" y2="1310.5" stroke="#f0f0f0" stroke-width="1.6"/>
<line x1="394.8" y1="1304.7" x2="1054.8" y2="1304.7" stroke="#f0f0f0" stroke-width="1.6"/>
<line x1="394.8" y1="1299.0" x2="1054.8" y2="1299.0" stroke="#f0f0f0" stroke-width="1.6"/>
<line x1="394.8" y1="1293.3" x2="1054.8" y2="1293.3" stroke="#f0f0f0" stroke-width="1.6"/>
<line x1="394.8" y1="1287.6" x2="1054.8" y2="1287.6" stroke="#f0f0f0" stroke-width="1.6"/>
<line x1="394.8" y1="1281.9" x2="1054.8" y2="1281.9" stroke="#f0f0f0" stroke-width="1.6"/>
<line x1="394.8" y1="1276.2" x2="1054.8" y2="1276.2" stroke="#f0f0f0" stroke-width="1.6"/>
<line x1="394.8" y1="1270.4" x2="1054.8" y2="1270.4" stroke="#f0f0f0" stroke-width="1.6"/>
<line x1="394.8" y1="1264.7" x2="1054.8" y2="1264.7" stroke="#f0f0f0" stroke-width="1.6"/>
<line x1="609.1" y1="1259.0" x2="609.1" y2="1659.3" stroke="#e6e6e6" stroke-width="1.8"/>
<line x1="638.1" y1="1259.0" x2="638.1" y2="1659.3" stroke="#e6e6e6" stroke-width="1.8"/>
<line x1="658.7" y1="1259.0" x2="658.7" y2="1659.3" stroke="#e6e6e6" stroke-width="1.8"/>
<line x1="674.6" y1="1259.0" x2="674.6" y2="1659.3" stroke="#e6e6e6" stroke-width="1.8"/>
<line x1="687.7" y1="1259.0" x2="687.7" y2="1659.3" stroke="#e6e6e6" stroke-width="1.8"/>
<line x1="698.7" y1="1259.0" x2="698.7" y2="1659.3" stroke="#e6e6e6" stroke-width="1.8"/>
<line x1="708.2" y1="1259.0" x2="708.2" y2="1659.3" stroke="#e6e6e6" stroke-width="1.8"/>
<line x1="716.7" y1="1259.0" x2="716.7" y2="1659.3" stroke="#e6e6e6" stroke-width="1.8"/>
<line x1="938.5" y1="1259.0" x2="938.5" y2="1659.3" stroke="#e6e6e6" stroke-width="1.8"/>
<line x1="967.5" y1="1259.0" x2="967.5" y2="1659.3" stroke="#e6e6e6" stroke-width="1.8"/>
<line x1="988.1" y1="1259.0" x2="988.1" y2="1659.3" stroke="#e6e6e6" stroke-width="1.8"/>
<line x1="1004.0" y1="1259.0" x2="1004.0" y2="1659.3" stroke="#e6e6e6" stroke-width="1.8"/>
<line x1="1017.1" y1="1259.0" x2="1017.1" y2="1659.3" stroke="#e6e6e6" stroke-width="1.8"/>
<line x1="1028.1" y1="1259.0" x2="1028.1" y2="1659.3" stroke="#e6e6e6" stroke-width="1.8"/>
<line x1="1037.6" y1="1259.0" x2="1037.6" y2="1659.3" stroke="#e6e6e6" stroke-width="1.8"/>
<line x1="1046.1" y1="1259.0" x2="1046.1" y2="1659.3" stroke="#e6e6e6" stroke-width="1.8"/>
<line x1="559.5" y1="1259.0" x2="559.5" y2="1659.3" stroke="#e0e0e0" stroke-width="2"/>
<line x1="888.9" y1="1259.0" x2="888.9" y2="1659.3" stroke="#e0e0e0" stroke-width="2"/>
<line x1="724.2" y1="1259.0" x2="724.2" y2="1659.3" stroke="#d4d4d4" stroke-width="2.2"/>
<line x1="1053.6" y1="1259.0" x2="1053.6" y2="1659.3" stroke="#d4d4d4" stroke-width="2.2"/>
<line x1="384.8" y1="1659.3" x2="1054.8" y2="1659.3" stroke="#d0d0d0" stroke-width="2.2"/>
<line x1="384.8" y1="1602.1" x2="1054.8" y2="1602.1" stroke="#d0d0d0" stroke-width="2.2"/>
<line x1="384.8" y1="1544.9" x2="1054.8" y2="1544.9" stroke="#d0d0d0" stroke-width="2.2"/>
<line x1="384.8" y1="1487.7" x2="1054.8" y2="1487.7" stroke="#d0d0d0" stroke-width="2.2"/>
<line x1="384.8" y1="1430.6" x2="1054.8" y2="1430.6" stroke="#d0d0d0" stroke-width="2.2"/>
<line x1="384.8" y1="1373.4" x2="1054.8" y2="1373.4" stroke="#d0d0d0" stroke-width="2.2"/>
<line x1="384.8" y1="1316.2" x2="1054.8" y2="1316.2" stroke="#d0d0d0" stroke-width="2.2"/>
<line x1="384.8" y1="1259.0" x2="1054.8" y2="1259.0" stroke="#d0d0d0" stroke-width="2.2"/>
<line x1="394.8" y1="1259.0" x2="394.8" y2="1669.3" stroke="#c4c4c4" stroke-width="2.6"/>
<line x1="384.8" y1="1659.3" x2="1054.8" y2="1659.3" stroke="#c8c8c8" stroke-width="2.6"/>
<line x1="724.2" y1="1659.3" x2="724.2" y2="1669.3" stroke="#c8c8c8" stroke-width="2.4"/>
<line x1="1053.6" y1="1659.3" x2="1053.6" y2="1669.3" stroke="#c8c8c8" stroke-width="2.4"/>
<text x="342.2" y="1668.7" font-size="26.78" textLength="21.1" lengthAdjust="spacingAndGlyphs" fill="#595959" stroke="#595959" stroke-width="0.7">0</text>
<text x="291.7" y="1611.5" font-size="26.78" textLength="71.4" lengthAdjust="spacingAndGlyphs" fill="#595959" stroke="#595959" stroke-width="0.7">2000</text>
<text x="292.6" y="1554.3" font-size="26.78" textLength="70.5" lengthAdjust="spacingAndGlyphs" fill="#595959" stroke="#595959" stroke-width="0.7">4000</text>
<text x="291.7" y="1497.1" font-size="26.78" textLength="71.4" lengthAdjust="spacingAndGlyphs" fill="#595959" stroke="#595959" stroke-width="0.7">6000</text>
<text x="291.9" y="1440.0" font-size="26.78" textLength="71.1" lengthAdjust="spacingAndGlyphs" fill="#595959" stroke="#595959" stroke-width="0.7">8000</text>
<text x="272.1" y="1382.8" font-size="26.78" textLength="91.0" lengthAdjust="spacingAndGlyphs" fill="#595959" stroke="#595959" stroke-width="0.7">10000</text>
<text x="272.1" y="1325.6" font-size="26.78" textLength="91.0" lengthAdjust="spacingAndGlyphs" fill="#595959" stroke="#595959" stroke-width="0.7">12000</text>
<text x="272.1" y="1268.4" font-size="26.78" textLength="91.0" lengthAdjust="spacingAndGlyphs" fill="#595959" stroke="#595959" stroke-width="0.7">14000</text>
<text x="385.0" y="1717.4" font-size="31.69" textLength="18.1" lengthAdjust="spacingAndGlyphs" fill="#595959" stroke="#595959" stroke-width="0.7">1</text>
<text x="689.8" y="1718.0" font-size="31.25" textLength="70.9" lengthAdjust="spacingAndGlyphs" fill="#595959" stroke="#595959" stroke-width="0.7">100</text>
<text x="997.7" y="1718.4" font-size="30.52" textLength="114.3" lengthAdjust="spacingAndGlyphs" fill="#595959" stroke="#595959" stroke-width="0.7">10000</text>
<text x="593.5" y="1750.0" font-size="34.57" textLength="96.3" lengthAdjust="spacingAndGlyphs" fill="#595959" stroke="#595959" stroke-width="0.7">conc</text>
<text x="754.5" y="1749.4" font-size="38.64" textLength="103.9" lengthAdjust="spacingAndGlyphs" fill="#595959" stroke="#595959" stroke-width="0.7">(nM)</text>
<text transform="translate(264.9,1523.8) scale(1.27,1) rotate(-90)" font-size="34.5" textLength="143" lengthAdjust="spacingAndGlyphs" fill="#595959" stroke="#595959" stroke-width="0.6">Intensity</text>
<ellipse cx="482.5" cy="1659" rx="26" ry="21.5" fill="#1f6fca"/>
<ellipse cx="647.6" cy="1631" rx="26" ry="21.5" fill="#1f6fca"/>
<ellipse cx="812.4" cy="1539" rx="26" ry="21.5" fill="#1f6fca"/>
<ellipse cx="977.5" cy="1316.8" rx="26" ry="21.5" fill="#1f6fca"/>
<polygon points="482.4,1433.5 466.1,1458.0 498.6,1458.0" fill="#ff7a26" stroke="#ff7a26" stroke-width="17.0" stroke-linejoin="round"/>
<polygon points="648.2,1419.5 631.5,1442.5 665.0,1442.5" fill="#ff7a26" stroke="#ff7a26" stroke-width="17.0" stroke-linejoin="round"/>
<polygon points="812.0,1333.1 795.0,1358.1 829.0,1358.1" fill="#ff7a26" stroke="#ff7a26" stroke-width="17.0" stroke-linejoin="round"/>
<polygon points="977.0,1304.9 959.2,1329.5 994.8,1329.5" fill="#ff7a26" stroke="#ff7a26" stroke-width="17.0" stroke-linejoin="round"/>
<path d="M481.3,1448.0 C494.4,1447.6 535.5,1447.0 560.0,1445.5 C584.5,1444.0 609.8,1440.9 628.2,1439.2 C646.6,1437.5 654.2,1437.9 670.5,1435.3 C686.8,1432.7 711.1,1427.4 726.1,1423.4 C741.1,1419.4 751.2,1415.4 760.5,1411.4 C769.8,1407.4 776.2,1404.3 781.7,1399.5 C787.2,1394.7 791.4,1387.6 793.6,1382.3 C795.8,1377.0 793.4,1372.6 794.9,1367.8 C796.4,1363.0 798.0,1358.7 802.9,1353.2 C807.8,1347.7 815.2,1339.8 824.0,1334.7 C832.8,1329.6 843.1,1325.8 855.8,1322.8 C868.5,1319.8 886.9,1317.7 900.0,1316.5 C913.1,1315.3 928.9,1315.7 934.7,1315.5" fill="none" stroke="#ffc000" stroke-width="3.2" stroke-linecap="round"/>
<path d="M464.7,1658.2 C472.5,1657.9 493.2,1657.9 511.4,1656.6 C529.5,1655.3 550.9,1654.5 573.6,1650.4 C596.3,1646.3 622.2,1639.9 647.4,1632.0 C672.6,1624.1 704.5,1611.7 724.6,1602.8 C744.7,1593.9 753.8,1588.1 768.1,1578.8 C782.4,1569.5 798.2,1557.5 810.2,1547.2 C822.2,1536.9 831.2,1527.7 840.2,1517.2 C849.2,1506.7 857.7,1494.7 864.2,1484.2 C870.7,1473.7 875.2,1464.2 879.2,1454.2 C883.2,1444.2 886.0,1434.2 888.2,1424.2 C890.5,1414.2 891.5,1404.1 892.7,1394.1 C894.0,1384.1 893.5,1372.6 895.7,1364.1 C898.0,1355.6 901.5,1349.3 906.2,1343.1 C911.0,1336.8 917.7,1330.7 924.2,1326.6 C930.7,1322.5 938.2,1320.3 945.2,1318.5 C952.2,1316.7 962.8,1316.0 966.3,1315.5" fill="none" stroke="#ffc000" stroke-width="3.2" stroke-linecap="round"/>
<text x="1255.3" y="1289.1" font-size="51.98" textLength="35.5" lengthAdjust="spacingAndGlyphs" fill="#000" font-weight="bold">C</text>
<text x="1420.8" y="1727.0" font-size="22.34" textLength="18.1" lengthAdjust="spacingAndGlyphs" fill="#3a3a3a" stroke="#3a3a3a" stroke-width="0.9">0</text>
<text x="1419.3" y="1652.4" font-size="22.34" textLength="20.1" lengthAdjust="spacingAndGlyphs" fill="#3a3a3a" stroke="#3a3a3a" stroke-width="0.9">1</text>
<text x="1420.4" y="1577.8" font-size="22.34" textLength="19.0" lengthAdjust="spacingAndGlyphs" fill="#3a3a3a" stroke="#3a3a3a" stroke-width="0.9">2</text>
<text x="1420.8" y="1503.2" font-size="22.34" textLength="18.3" lengthAdjust="spacingAndGlyphs" fill="#3a3a3a" stroke="#3a3a3a" stroke-width="0.9">3</text>
<text x="1421.4" y="1428.6" font-size="22.34" textLength="17.2" lengthAdjust="spacingAndGlyphs" fill="#3a3a3a" stroke="#3a3a3a" stroke-width="0.9">4</text>
<text x="1420.8" y="1354.0" font-size="22.34" textLength="18.3" lengthAdjust="spacingAndGlyphs" fill="#3a3a3a" stroke="#3a3a3a" stroke-width="0.9">5</text>
<text x="1352.4" y="1270.8" font-size="24.13" textLength="90.1" lengthAdjust="spacingAndGlyphs" fill="#3a3a3a" stroke="#3a3a3a" stroke-width="0.9">Intens.</text>
<text x="1376.7" y="1303.1" font-size="21.37" textLength="48.1" lengthAdjust="spacingAndGlyphs" fill="#3a3a3a" stroke="#3a3a3a" stroke-width="0.9">x10</text>
<text x="1429.2" y="1295.2" font-size="25.73" textLength="14.4" lengthAdjust="spacingAndGlyphs" fill="#3a3a3a" stroke="#3a3a3a" stroke-width="0.9">7</text>
<line x1="1446.4" y1="1719.2" x2="1460.4" y2="1719.2" stroke="#2b2b2b" stroke-width="2.5"/>
<line x1="1450.9" y1="1704.3" x2="1460.4" y2="1704.3" stroke="#2b2b2b" stroke-width="2.5"/>
<line x1="1450.9" y1="1689.4" x2="1460.4" y2="1689.4" stroke="#2b2b2b" stroke-width="2.5"/>
<line x1="1450.9" y1="1674.4" x2="1460.4" y2="1674.4" stroke="#2b2b2b" stroke-width="2.5"/>
<line x1="1450.9" y1="1659.5" x2="1460.4" y2="1659.5" stroke="#2b2b2b" stroke-width="2.5"/>
<line x1="1446.4" y1="1644.6" x2="1460.4" y2="1644.6" stroke="#2b2b2b" stroke-width="2.5"/>
<line x1="1450.9" y1="1629.7" x2="1460.4" y2="1629.7" stroke="#2b2b2b" stroke-width="2.5"/>
<line x1="1450.9" y1="1614.8" x2="1460.4" y2="1614.8" stroke="#2b2b2b" stroke-width="2.5"/>
<line x1="1450.9" y1="1599.8" x2="1460.4" y2="1599.8" stroke="#2b2b2b" stroke-width="2.5"/>
<line x1="1450.9" y1="1584.9" x2="1460.4" y2="1584.9" stroke="#2b2b2b" stroke-width="2.5"/>
<line x1="1446.4" y1="1570.0" x2="1460.4" y2="1570.0" stroke="#2b2b2b" stroke-width="2.5"/>
<line x1="1450.9" y1="1555.1" x2="1460.4" y2="1555.1" stroke="#2b2b2b" stroke-width="2.5"/>
<line x1="1450.9" y1="1540.2" x2="1460.4" y2="1540.2" stroke="#2b2b2b" stroke-width="2.5"/>
<line x1="1450.9" y1="1525.2" x2="1460.4" y2="1525.2" stroke="#2b2b2b" stroke-width="2.5"/>
<line x1="1450.9" y1="1510.3" x2="1460.4" y2="1510.3" stroke="#2b2b2b" stroke-width="2.5"/>
<line x1="1446.4" y1="1495.4" x2="1460.4" y2="1495.4" stroke="#2b2b2b" stroke-width="2.5"/>
<line x1="1450.9" y1="1480.5" x2="1460.4" y2="1480.5" stroke="#2b2b2b" stroke-width="2.5"/>
<line x1="1450.9" y1="1465.6" x2="1460.4" y2="1465.6" stroke="#2b2b2b" stroke-width="2.5"/>
<line x1="1450.9" y1="1450.6" x2="1460.4" y2="1450.6" stroke="#2b2b2b" stroke-width="2.5"/>
<line x1="1450.9" y1="1435.7" x2="1460.4" y2="1435.7" stroke="#2b2b2b" stroke-width="2.5"/>
<line x1="1446.4" y1="1420.8" x2="1460.4" y2="1420.8" stroke="#2b2b2b" stroke-width="2.5"/>
<line x1="1450.9" y1="1405.9" x2="1460.4" y2="1405.9" stroke="#2b2b2b" stroke-width="2.5"/>
<line x1="1450.9" y1="1391.0" x2="1460.4" y2="1391.0" stroke="#2b2b2b" stroke-width="2.5"/>
<line x1="1450.9" y1="1376.0" x2="1460.4" y2="1376.0" stroke="#2b2b2b" stroke-width="2.5"/>
<line x1="1450.9" y1="1361.1" x2="1460.4" y2="1361.1" stroke="#2b2b2b" stroke-width="2.5"/>
<line x1="1446.4" y1="1346.2" x2="1460.4" y2="1346.2" stroke="#2b2b2b" stroke-width="2.5"/>
<line x1="1450.9" y1="1331.3" x2="1460.4" y2="1331.3" stroke="#2b2b2b" stroke-width="2.5"/>
<line x1="1450.9" y1="1316.4" x2="1460.4" y2="1316.4" stroke="#2b2b2b" stroke-width="2.5"/>
<line x1="1450.9" y1="1301.4" x2="1460.4" y2="1301.4" stroke="#2b2b2b" stroke-width="2.5"/>
<line x1="1450.9" y1="1286.5" x2="1460.4" y2="1286.5" stroke="#2b2b2b" stroke-width="2.5"/>
<line x1="1446.4" y1="1271.6" x2="1460.4" y2="1271.6" stroke="#2b2b2b" stroke-width="2.5"/>
<line x1="1450.9" y1="1256.7" x2="1460.4" y2="1256.7" stroke="#2b2b2b" stroke-width="2.5"/>
<line x1="1476.1" y1="1720.8" x2="1476.1" y2="1730.8" stroke="#2b2b2b" stroke-width="2.5"/>
<line x1="1507.9" y1="1720.8" x2="1507.9" y2="1730.8" stroke="#2b2b2b" stroke-width="2.5"/>
<line x1="1539.8" y1="1720.8" x2="1539.8" y2="1735.8" stroke="#2b2b2b" stroke-width="2.5"/>
<line x1="1571.7" y1="1720.8" x2="1571.7" y2="1730.8" stroke="#2b2b2b" stroke-width="2.5"/>
<line x1="1603.5" y1="1720.8" x2="1603.5" y2="1730.8" stroke="#2b2b2b" stroke-width="2.5"/>
<line x1="1635.4" y1="1720.8" x2="1635.4" y2="1730.8" stroke="#2b2b2b" stroke-width="2.5"/>
<line x1="1667.2" y1="1720.8" x2="1667.2" y2="1730.8" stroke="#2b2b2b" stroke-width="2.5"/>
<line x1="1699.1" y1="1720.8" x2="1699.1" y2="1735.8" stroke="#2b2b2b" stroke-width="2.5"/>
<line x1="1731.0" y1="1720.8" x2="1731.0" y2="1730.8" stroke="#2b2b2b" stroke-width="2.5"/>
<line x1="1762.8" y1="1720.8" x2="1762.8" y2="1730.8" stroke="#2b2b2b" stroke-width="2.5"/>
<line x1="1794.7" y1="1720.8" x2="1794.7" y2="1730.8" stroke="#2b2b2b" stroke-width="2.5"/>
<line x1="1826.5" y1="1720.8" x2="1826.5" y2="1730.8" stroke="#2b2b2b" stroke-width="2.5"/>
<line x1="1858.4" y1="1720.8" x2="1858.4" y2="1735.8" stroke="#2b2b2b" stroke-width="2.5"/>
<line x1="1890.3" y1="1720.8" x2="1890.3" y2="1730.8" stroke="#2b2b2b" stroke-width="2.5"/>
<line x1="1922.1" y1="1720.8" x2="1922.1" y2="1730.8" stroke="#2b2b2b" stroke-width="2.5"/>
<line x1="1954.0" y1="1720.8" x2="1954.0" y2="1730.8" stroke="#2b2b2b" stroke-width="2.5"/>
<line x1="1985.8" y1="1720.8" x2="1985.8" y2="1730.8" stroke="#2b2b2b" stroke-width="2.5"/>
<line x1="2017.7" y1="1720.8" x2="2017.7" y2="1735.8" stroke="#2b2b2b" stroke-width="2.5"/>
<line x1="2049.6" y1="1720.8" x2="2049.6" y2="1730.8" stroke="#2b2b2b" stroke-width="2.5"/>
<line x1="2081.4" y1="1720.8" x2="2081.4" y2="1730.8" stroke="#2b2b2b" stroke-width="2.5"/>
<line x1="2113.3" y1="1720.8" x2="2113.3" y2="1730.8" stroke="#2b2b2b" stroke-width="2.5"/>
<line x1="2145.1" y1="1720.8" x2="2145.1" y2="1730.8" stroke="#2b2b2b" stroke-width="2.5"/>
<line x1="2177.0" y1="1720.8" x2="2177.0" y2="1735.8" stroke="#2b2b2b" stroke-width="2.5"/>
<line x1="2208.9" y1="1720.8" x2="2208.9" y2="1730.8" stroke="#2b2b2b" stroke-width="2.5"/>
<line x1="2240.7" y1="1720.8" x2="2240.7" y2="1730.8" stroke="#2b2b2b" stroke-width="2.5"/>
<text x="1518.1" y="1758.4" font-size="22.20" textLength="43.5" lengthAdjust="spacingAndGlyphs" fill="#3a3a3a" stroke="#3a3a3a" stroke-width="0.9">0.5</text>
<text x="1676.2" y="1758.4" font-size="22.20" textLength="44.7" lengthAdjust="spacingAndGlyphs" fill="#3a3a3a" stroke="#3a3a3a" stroke-width="0.9">1.0</text>
<text x="1835.4" y="1758.4" font-size="22.20" textLength="44.8" lengthAdjust="spacingAndGlyphs" fill="#3a3a3a" stroke="#3a3a3a" stroke-width="0.9">1.5</text>
<text x="1995.6" y="1758.4" font-size="22.20" textLength="43.8" lengthAdjust="spacingAndGlyphs" fill="#3a3a3a" stroke="#3a3a3a" stroke-width="0.9">2.0</text>
<text x="2136.9" y="1757.9" font-size="24.46" textLength="129.6" lengthAdjust="spacingAndGlyphs" fill="#3a3a3a" stroke="#3a3a3a" stroke-width="0.9">Time [min]</text>
<line x1="1540.5" y1="1258" x2="1540.5" y2="1718" stroke="#6fb3d9" stroke-width="2.2" stroke-dasharray="5,4" opacity="0.9"/>
<line x1="2020.8" y1="1258" x2="2020.8" y2="1718" stroke="#6fb3d9" stroke-width="2.2" stroke-dasharray="5,4" opacity="0.9"/>
<polyline points="1460.0,1713.3 1529.1,1713.3 1536.0,1703.0 1546.5,1685.7 1555.0,1694.0 1562.5,1700.3 1581.4,1709.0 1604.6,1714.8 1630.8,1717.7 1700.0,1718.5 1722.5,1718.8 1741.3,1500.0 1746.7,1405.7 1752.9,1373.0 1756.8,1368.3 1760.7,1366.8 1766.9,1349.6 1776.3,1332.5 1784.1,1337.2 1791.9,1341.8 1799.6,1352.7 1807.4,1365.2 1818.3,1376.1 1824.5,1363.6 1829.2,1380.8 1833.9,1390.1 1837.8,1408.8 1843.2,1397.9 1849.5,1405.7 1860.3,1419.7 1871.3,1438.4 1879.0,1436.8 1891.5,1443.8 1897.7,1436.8 1908.6,1436.8 1916.4,1444.6 1922.6,1468.0 1931.0,1499.6 1938.2,1499.6 1947.5,1528.5 1953.7,1573.9 1956.8,1594.6 1964.0,1602.8 1979.5,1619.4 1988.8,1621.4 2003.3,1627.6 2019.8,1638.0 2023.9,1648.3 2032.2,1681.3 2044.6,1685.5 2059.0,1685.5 2071.4,1689.6 2081.8,1685.5 2090.0,1677.2 2098.3,1652.4 2106.5,1644.1 2114.8,1627.6 2126.2,1603.9 2129.3,1629.7 2133.4,1629.7 2139.6,1617.3 2152.0,1635.9 2164.4,1650.3 2176.8,1658.6 2183.0,1666.9 2197.4,1654.5 2205.7,1633.8 2211.9,1633.8 2220.1,1660.7 2230.5,1679.3 2242.9,1691.6 2255.2,1699.9 2269.7,1700.9" fill="none" stroke="#8a161c" stroke-width="2.4" stroke-linejoin="round" stroke-linecap="round"/>
<polyline points="1460.0,1719.5 1536.0,1719.5 1539.0,1715.0 1546.5,1685.7 1555.0,1694.0 1562.5,1700.3 1581.4,1709.0 1604.6,1714.8 1630.8,1717.7 1650.0,1719.5 1722.5,1719.5 1741.0,1500.0 1746.7,1374.5 1752.2,1334.1 1759.2,1332.5 1761.5,1323.2 1766.9,1318.5 1771.6,1319.3 1775.5,1326.3 1777.8,1346.5 1787.2,1346.5 1790.3,1352.7 1795.0,1376.1 1799.6,1385.4 1805.9,1385.4 1812.1,1402.6 1818.3,1415.0 1826.1,1417.4 1830.8,1436.8 1837.0,1436.8 1843.2,1452.4 1849.5,1439.9 1855.7,1452.4 1868.1,1466.4 1875.9,1471.1 1883.7,1469.5 1891.5,1472.6 1897.7,1476.5 1903.9,1475.7 1913.3,1480.4 1920.7,1501.6 1931.0,1514.0 1941.3,1549.1 1953.7,1598.7 1959.9,1623.5 1970.2,1636.9 1982.6,1643.1 1999.1,1650.3 2011.5,1654.5 2019.8,1648.3 2021.9,1629.7 2023.9,1650.3 2032.2,1693.7 2044.6,1689.6 2052.8,1689.6 2061.1,1615.2 2069.4,1605.9 2079.7,1617.3 2085.9,1625.6 2094.1,1623.5 2100.3,1642.1 2110.7,1660.7 2118.9,1668.9 2131.3,1662.7 2145.8,1645.2 2154.0,1658.6 2162.3,1675.1 2174.7,1691.6 2193.3,1699.9 2213.9,1706.1 2230.5,1700.9 2247.0,1704.0 2255.2,1709.2 2269.7,1709.8" fill="none" stroke="#fcc419" stroke-width="2.4" stroke-linejoin="round" stroke-linecap="round"/>
<polyline points="1546.5,1685.7 1555.0,1694.0 1562.5,1700.3 1581.4,1709.0 1604.6,1714.8 1630.8,1717.7" fill="none" stroke="#8a161c" stroke-width="1.6" stroke-linejoin="round" stroke-linecap="round" stroke-dasharray="5,6"/>
<polyline points="1722.5,1718.8 1741.3,1500.0 1746.7,1405.7" fill="none" stroke="#8a161c" stroke-width="1.4" stroke-linejoin="round" stroke-linecap="round" stroke-dasharray="6,7"/>
<line x1="1461.4" y1="1718.2" x2="2273.8" y2="1718.2" stroke="#f7c948" stroke-width="4"/>
<line x1="1459.4" y1="1255.2" x2="2276.3" y2="1255.2" stroke="#7a7a7a" stroke-width="3"/>
<line x1="2274.8" y1="1254.0" x2="2274.8" y2="1722.0" stroke="#7a7a7a" stroke-width="3"/>
<line x1="1460.4" y1="1254.0" x2="1460.4" y2="1722.0" stroke="#222" stroke-width="2.4"/>
<line x1="1459.4" y1="1721.6" x2="2276.3" y2="1721.6" stroke="#333" stroke-width="3"/>
<text x="1497.6" y="1312.5" font-size="33.67" textLength="77.8" lengthAdjust="spacingAndGlyphs" fill="#111" font-style="italic">m/z</text>
<text x="1586.8" y="1312.5" font-size="36.19" textLength="206.5" lengthAdjust="spacingAndGlyphs" fill="#111" stroke="#111" stroke-width="0.8">533–1019</text>
<text x="1496.4" y="1357.8" font-size="36.69" textLength="155.0" lengthAdjust="spacingAndGlyphs" fill="#111" stroke="#111" stroke-width="0.8">overlap</text>
<text x="1929.8" y="1344.9" font-size="35.08" textLength="317.3" lengthAdjust="spacingAndGlyphs" fill="#f5b800" stroke="#f5b800" stroke-width="1.0">With Tiquidium</text>
<text x="1379.4" y="1854.3" font-size="24.06" textLength="59.6" lengthAdjust="spacingAndGlyphs" fill="#3a3a3a" stroke="#3a3a3a" stroke-width="0.9">1.25</text>
<text x="1379.4" y="1933.7" font-size="24.06" textLength="59.5" lengthAdjust="spacingAndGlyphs" fill="#3a3a3a" stroke="#3a3a3a" stroke-width="0.9">1.00</text>
<text x="1380.5" y="2013.1" font-size="24.06" textLength="58.4" lengthAdjust="spacingAndGlyphs" fill="#3a3a3a" stroke="#3a3a3a" stroke-width="0.9">0.75</text>
<text x="1380.5" y="2092.5" font-size="24.06" textLength="58.3" lengthAdjust="spacingAndGlyphs" fill="#3a3a3a" stroke="#3a3a3a" stroke-width="0.9">0.50</text>
<text x="1380.5" y="2171.9" font-size="24.06" textLength="58.4" lengthAdjust="spacingAndGlyphs" fill="#3a3a3a" stroke="#3a3a3a" stroke-width="0.9">0.25</text>
<text x="1380.5" y="2251.3" font-size="24.06" textLength="58.3" lengthAdjust="spacingAndGlyphs" fill="#3a3a3a" stroke="#3a3a3a" stroke-width="0.9">0.00</text>
<text x="1352.4" y="1795.5" font-size="23.98" textLength="91.4" lengthAdjust="spacingAndGlyphs" fill="#3a3a3a" stroke="#3a3a3a" stroke-width="0.9">Intens.</text>
<text x="1376.7" y="1826.0" font-size="23.98" textLength="49.5" lengthAdjust="spacingAndGlyphs" fill="#3a3a3a" stroke="#3a3a3a" stroke-width="0.9">x10</text>
<text x="1426.3" y="1820.0" font-size="20.35" textLength="16.6" lengthAdjust="spacingAndGlyphs" fill="#3a3a3a" stroke="#3a3a3a" stroke-width="0.9">4</text>
<line x1="1446.4" y1="2242.9" x2="1460.4" y2="2242.9" stroke="#2b2b2b" stroke-width="2.5"/>
<line x1="1450.9" y1="2227.0" x2="1460.4" y2="2227.0" stroke="#2b2b2b" stroke-width="2.5"/>
<line x1="1450.9" y1="2211.1" x2="1460.4" y2="2211.1" stroke="#2b2b2b" stroke-width="2.5"/>
<line x1="1450.9" y1="2195.3" x2="1460.4" y2="2195.3" stroke="#2b2b2b" stroke-width="2.5"/>
<line x1="1450.9" y1="2179.4" x2="1460.4" y2="2179.4" stroke="#2b2b2b" stroke-width="2.5"/>
<line x1="1446.4" y1="2163.5" x2="1460.4" y2="2163.5" stroke="#2b2b2b" stroke-width="2.5"/>
<line x1="1450.9" y1="2147.6" x2="1460.4" y2="2147.6" stroke="#2b2b2b" stroke-width="2.5"/>
<line x1="1450.9" y1="2131.7" x2="1460.4" y2="2131.7" stroke="#2b2b2b" stroke-width="2.5"/>
<line x1="1450.9" y1="2115.9" x2="1460.4" y2="2115.9" stroke="#2b2b2b" stroke-width="2.5"/>
<line x1="1450.9" y1="2100.0" x2="1460.4" y2="2100.0" stroke="#2b2b2b" stroke-width="2.5"/>
<line x1="1446.4" y1="2084.1" x2="1460.4" y2="2084.1" stroke="#2b2b2b" stroke-width="2.5"/>
<line x1="1450.9" y1="2068.2" x2="1460.4" y2="2068.2" stroke="#2b2b2b" stroke-width="2.5"/>
<line x1="1450.9" y1="2052.3" x2="1460.4" y2="2052.3" stroke="#2b2b2b" stroke-width="2.5"/>
<line x1="1450.9" y1="2036.5" x2="1460.4" y2="2036.5" stroke="#2b2b2b" stroke-width="2.5"/>
<line x1="1450.9" y1="2020.6" x2="1460.4" y2="2020.6" stroke="#2b2b2b" stroke-width="2.5"/>
<line x1="1446.4" y1="2004.7" x2="1460.4" y2="2004.7" stroke="#2b2b2b" stroke-width="2.5"/>
<line x1="1450.9" y1="1988.8" x2="1460.4" y2="1988.8" stroke="#2b2b2b" stroke-width="2.5"/>
<line x1="1450.9" y1="1972.9" x2="1460.4" y2="1972.9" stroke="#2b2b2b" stroke-width="2.5"/>
<line x1="1450.9" y1="1957.1" x2="1460.4" y2="1957.1" stroke="#2b2b2b" stroke-width="2.5"/>
<line x1="1450.9" y1="1941.2" x2="1460.4" y2="1941.2" stroke="#2b2b2b" stroke-width="2.5"/>
<line x1="1446.4" y1="1925.3" x2="1460.4" y2="1925.3" stroke="#2b2b2b" stroke-width="2.5"/>
<line x1="1450.9" y1="1909.4" x2="1460.4" y2="1909.4" stroke="#2b2b2b" stroke-width="2.5"/>
<line x1="1450.9" y1="1893.5" x2="1460.4" y2="1893.5" stroke="#2b2b2b" stroke-width="2.5"/>
<line x1="1450.9" y1="1877.7" x2="1460.4" y2="1877.7" stroke="#2b2b2b" stroke-width="2.5"/>
<line x1="1450.9" y1="1861.8" x2="1460.4" y2="1861.8" stroke="#2b2b2b" stroke-width="2.5"/>
<line x1="1446.4" y1="1845.9" x2="1460.4" y2="1845.9" stroke="#2b2b2b" stroke-width="2.5"/>
<line x1="1450.9" y1="1830.0" x2="1460.4" y2="1830.0" stroke="#2b2b2b" stroke-width="2.5"/>
<line x1="1450.9" y1="1814.1" x2="1460.4" y2="1814.1" stroke="#2b2b2b" stroke-width="2.5"/>
<line x1="1450.9" y1="1798.3" x2="1460.4" y2="1798.3" stroke="#2b2b2b" stroke-width="2.5"/>
<line x1="1450.9" y1="1782.4" x2="1460.4" y2="1782.4" stroke="#2b2b2b" stroke-width="2.5"/>
<line x1="1476.1" y1="2247.0" x2="1476.1" y2="2257.0" stroke="#2b2b2b" stroke-width="2.5"/>
<line x1="1507.9" y1="2247.0" x2="1507.9" y2="2257.0" stroke="#2b2b2b" stroke-width="2.5"/>
<line x1="1539.8" y1="2247.0" x2="1539.8" y2="2262.0" stroke="#2b2b2b" stroke-width="2.5"/>
<line x1="1571.7" y1="2247.0" x2="1571.7" y2="2257.0" stroke="#2b2b2b" stroke-width="2.5"/>
<line x1="1603.5" y1="2247.0" x2="1603.5" y2="2257.0" stroke="#2b2b2b" stroke-width="2.5"/>
<line x1="1635.4" y1="2247.0" x2="1635.4" y2="2257.0" stroke="#2b2b2b" stroke-width="2.5"/>
<line x1="1667.2" y1="2247.0" x2="1667.2" y2="2257.0" stroke="#2b2b2b" stroke-width="2.5"/>
<line x1="1699.1" y1="2247.0" x2="1699.1" y2="2262.0" stroke="#2b2b2b" stroke-width="2.5"/>
<line x1="1731.0" y1="2247.0" x2="1731.0" y2="2257.0" stroke="#2b2b2b" stroke-width="2.5"/>
<line x1="1762.8" y1="2247.0" x2="1762.8" y2="2257.0" stroke="#2b2b2b" stroke-width="2.5"/>
<line x1="1794.7" y1="2247.0" x2="1794.7" y2="2257.0" stroke="#2b2b2b" stroke-width="2.5"/>
<line x1="1826.5" y1="2247.0" x2="1826.5" y2="2257.0" stroke="#2b2b2b" stroke-width="2.5"/>
<line x1="1858.4" y1="2247.0" x2="1858.4" y2="2262.0" stroke="#2b2b2b" stroke-width="2.5"/>
<line x1="1890.3" y1="2247.0" x2="1890.3" y2="2257.0" stroke="#2b2b2b" stroke-width="2.5"/>
<line x1="1922.1" y1="2247.0" x2="1922.1" y2="2257.0" stroke="#2b2b2b" stroke-width="2.5"/>
<line x1="1954.0" y1="2247.0" x2="1954.0" y2="2257.0" stroke="#2b2b2b" stroke-width="2.5"/>
<line x1="1985.8" y1="2247.0" x2="1985.8" y2="2257.0" stroke="#2b2b2b" stroke-width="2.5"/>
<line x1="2017.7" y1="2247.0" x2="2017.7" y2="2262.0" stroke="#2b2b2b" stroke-width="2.5"/>
<line x1="2049.6" y1="2247.0" x2="2049.6" y2="2257.0" stroke="#2b2b2b" stroke-width="2.5"/>
<line x1="2081.4" y1="2247.0" x2="2081.4" y2="2257.0" stroke="#2b2b2b" stroke-width="2.5"/>
<line x1="2113.3" y1="2247.0" x2="2113.3" y2="2257.0" stroke="#2b2b2b" stroke-width="2.5"/>
<line x1="2145.1" y1="2247.0" x2="2145.1" y2="2257.0" stroke="#2b2b2b" stroke-width="2.5"/>
<line x1="2177.0" y1="2247.0" x2="2177.0" y2="2262.0" stroke="#2b2b2b" stroke-width="2.5"/>
<line x1="2208.9" y1="2247.0" x2="2208.9" y2="2257.0" stroke="#2b2b2b" stroke-width="2.5"/>
<line x1="2240.7" y1="2247.0" x2="2240.7" y2="2257.0" stroke="#2b2b2b" stroke-width="2.5"/>
<text x="1518.1" y="2281.8" font-size="24.49" textLength="43.5" lengthAdjust="spacingAndGlyphs" fill="#3a3a3a" stroke="#3a3a3a" stroke-width="0.9">0.5</text>
<text x="1676.2" y="2281.8" font-size="24.49" textLength="44.7" lengthAdjust="spacingAndGlyphs" fill="#3a3a3a" stroke="#3a3a3a" stroke-width="0.9">1.0</text>
<text x="1835.4" y="2281.8" font-size="24.49" textLength="44.8" lengthAdjust="spacingAndGlyphs" fill="#3a3a3a" stroke="#3a3a3a" stroke-width="0.9">1.5</text>
<text x="1995.6" y="2281.8" font-size="24.49" textLength="43.8" lengthAdjust="spacingAndGlyphs" fill="#3a3a3a" stroke="#3a3a3a" stroke-width="0.9">2.0</text>
<text x="2134.0" y="2282.2" font-size="25.75" textLength="133.0" lengthAdjust="spacingAndGlyphs" fill="#3a3a3a" stroke="#3a3a3a" stroke-width="0.9">Time [min]</text>
<line x1="1540.5" y1="1782" x2="1540.5" y2="2243" stroke="#6fb3d9" stroke-width="2.2" stroke-dasharray="5,4" opacity="0.9"/>
<line x1="2020.8" y1="1782" x2="2020.8" y2="2243" stroke="#6fb3d9" stroke-width="2.2" stroke-dasharray="5,4" opacity="0.9"/>
<polyline points="1460.0,2243.0 1736.6,2243.0 1741.3,2211.7 1752.2,2186.8 1769.3,2121.4 1778.7,2116.8 1783.3,2093.4 1788.4,2024.8 1795.4,2026.2 1800.3,1985.7 1808.0,1982.9 1813.5,1971.7 1823.3,1938.2 1831.7,1936.1 1835.9,1928.4 1837.3,1876.7 1840.1,1900.4 1844.3,1900.4 1848.5,1876.7 1855.5,1882.3 1859.7,1904.6 1866.7,1915.8 1871.6,1859.9 1877.8,1858.5 1882.7,1901.8 1887.6,1861.3 1894.6,1865.5 1901.6,1887.8 1907.2,1913.0 1914.2,1921.4 1919.8,1966.1 1931.0,1928.4 1936.6,1959.1 1943.5,1953.5 1948.4,1970.3 1950.5,1894.8 1956.1,1865.5 1967.3,1844.5 1971.5,1868.3 1972.9,1885.0 1978.5,1896.2 1984.8,1886.4 1989.7,1906.0 1995.3,1900.4 2003.0,1901.8 2009.2,1948.0 2017.6,1948.0 2020.4,1985.7 2022.1,2038.7 2027.6,2064.0 2032.4,2107.1 2038.0,2116.7 2049.1,2138.3 2058.7,2131.1 2066.7,2092.7 2068.3,2111.9 2074.7,2118.3 2085.9,2095.1 2092.3,2110.3 2100.3,2103.9 2103.5,2072.0 2109.9,2075.2 2116.3,2067.2 2127.5,2062.4 2129.6,2037.0 2135.2,2029.0 2140.8,2037.0 2145.6,2049.9 2150.4,2014.6 2157.6,2069.1 2162.4,2025.8 2169.7,2033.8 2179.3,2003.4 2185.7,2030.6 2193.7,2033.8 2198.5,2065.9 2207.4,2075.2 2217.0,2119.9 2223.4,2124.7 2233.0,2179.0 2239.3,2135.9 2242.5,2159.9 2247.3,2143.9 2252.1,2191.8 2260.1,2188.6 2264.9,2166.3 2271.3,2172.7" fill="none" stroke="#8a161c" stroke-width="2.4" stroke-linejoin="round" stroke-linecap="round"/>
<polyline points="1460.0,2244.0 1747.4,2244.0 1753.2,2214.4 1764.1,2239.1 1770.7,2208.6 1778.7,2243.5 1790.3,2213.0 1795.4,2240.6 1801.2,2210.1 1807.0,2243.5 1811.4,2203.5 1818.6,2207.2 1823.7,2199.2 1826.6,2213.0 1831.7,2205.7 1837.5,2205.7 1849.1,2218.8 1855.0,2189.7 1860.8,2213.0 1866.6,2199.9 1873.8,2205.7 1885.5,2208.6 1894.2,2244.0 1897.1,2244.0 1903.6,2217.4 1911.6,2221.7 1920.3,2217.4 1930.5,2217.4 1937.0,2244.0 1943.6,2213.0 1949.4,2211.5 1956.7,2216.6 1968.3,2203.5 1975.6,2210.1 1979.9,2244.0 1983.5,2211.5 1991.5,2210.8 1996.4,2209.4 1998.8,2219.0 2005.2,2195.0 2010.8,2206.2 2016.4,2244.0 2022.0,2244.0 2027.6,2206.2 2033.2,2243.0 2038.7,2215.8 2045.1,2243.0 2079.5,2243.0 2086.7,2206.2 2093.9,2243.0 2109.9,2243.0 2114.7,2211.0 2119.5,2243.0 2145.0,2243.0 2151.4,2201.4 2157.8,2241.4 2163.4,2219.0 2169.0,2241.4 2177.0,2209.4 2183.4,2241.4 2188.2,2220.6 2194.6,2224.6 2201.0,2223.8 2207.4,2243.0 2220.2,2243.0 2227.3,2220.6 2232.9,2243.0 2252.1,2243.0 2258.5,2222.2 2264.9,2243.0 2271.3,2244.0" fill="none" stroke="#fcc419" stroke-width="2.4" stroke-linejoin="round" stroke-linecap="round"/>
<line x1="1459.4" y1="1779.3" x2="2276.3" y2="1779.3" stroke="#111" stroke-width="3"/>
<line x1="2274.8" y1="1778.0" x2="2274.8" y2="2247.5" stroke="#7a7a7a" stroke-width="3"/>
<line x1="1460.4" y1="1778.0" x2="1460.4" y2="2247.5" stroke="#222" stroke-width="2.4"/>
<line x1="1459.4" y1="2247.0" x2="2276.3" y2="2247.0" stroke="#444" stroke-width="3"/>
<line x1="1461.4" y1="2243.8" x2="2272.8" y2="2243.8" stroke="#f6cd3c" stroke-width="4"/>
<text x="1497.6" y="1844.7" font-size="33.67" textLength="77.8" lengthAdjust="spacingAndGlyphs" fill="#111" font-style="italic">m/z</text>
<text x="1586.4" y="1844.7" font-size="36.19" textLength="167.8" lengthAdjust="spacingAndGlyphs" fill="#111" stroke="#111" stroke-width="0.8">290.175</text>
<text x="1496.4" y="1894.7" font-size="36.69" textLength="155.0" lengthAdjust="spacingAndGlyphs" fill="#111" stroke="#111" stroke-width="0.8">overlap</text>
<text x="1495.4" y="2214.8" font-size="26.92" textLength="69.7" lengthAdjust="spacingAndGlyphs" fill="#8b4a2b" stroke="#8b4a2b" stroke-width="0.8">9648</text>
<text x="1495.4" y="2241.3" font-size="26.78" textLength="69.3" lengthAdjust="spacingAndGlyphs" fill="#f0c020" stroke="#f0c020" stroke-width="0.6">9654</text>
<text x="1506.5" y="2246.0" font-size="23.60" textLength="17.3" lengthAdjust="spacingAndGlyphs" fill="#6b3510" stroke="#6b3510" stroke-width="0.6">d</text>
<text x="1495.2" y="2274.0" font-size="25.81" textLength="28.8" lengthAdjust="spacingAndGlyphs" fill="#e8b000">.d</text>
</svg>
</body></html>
